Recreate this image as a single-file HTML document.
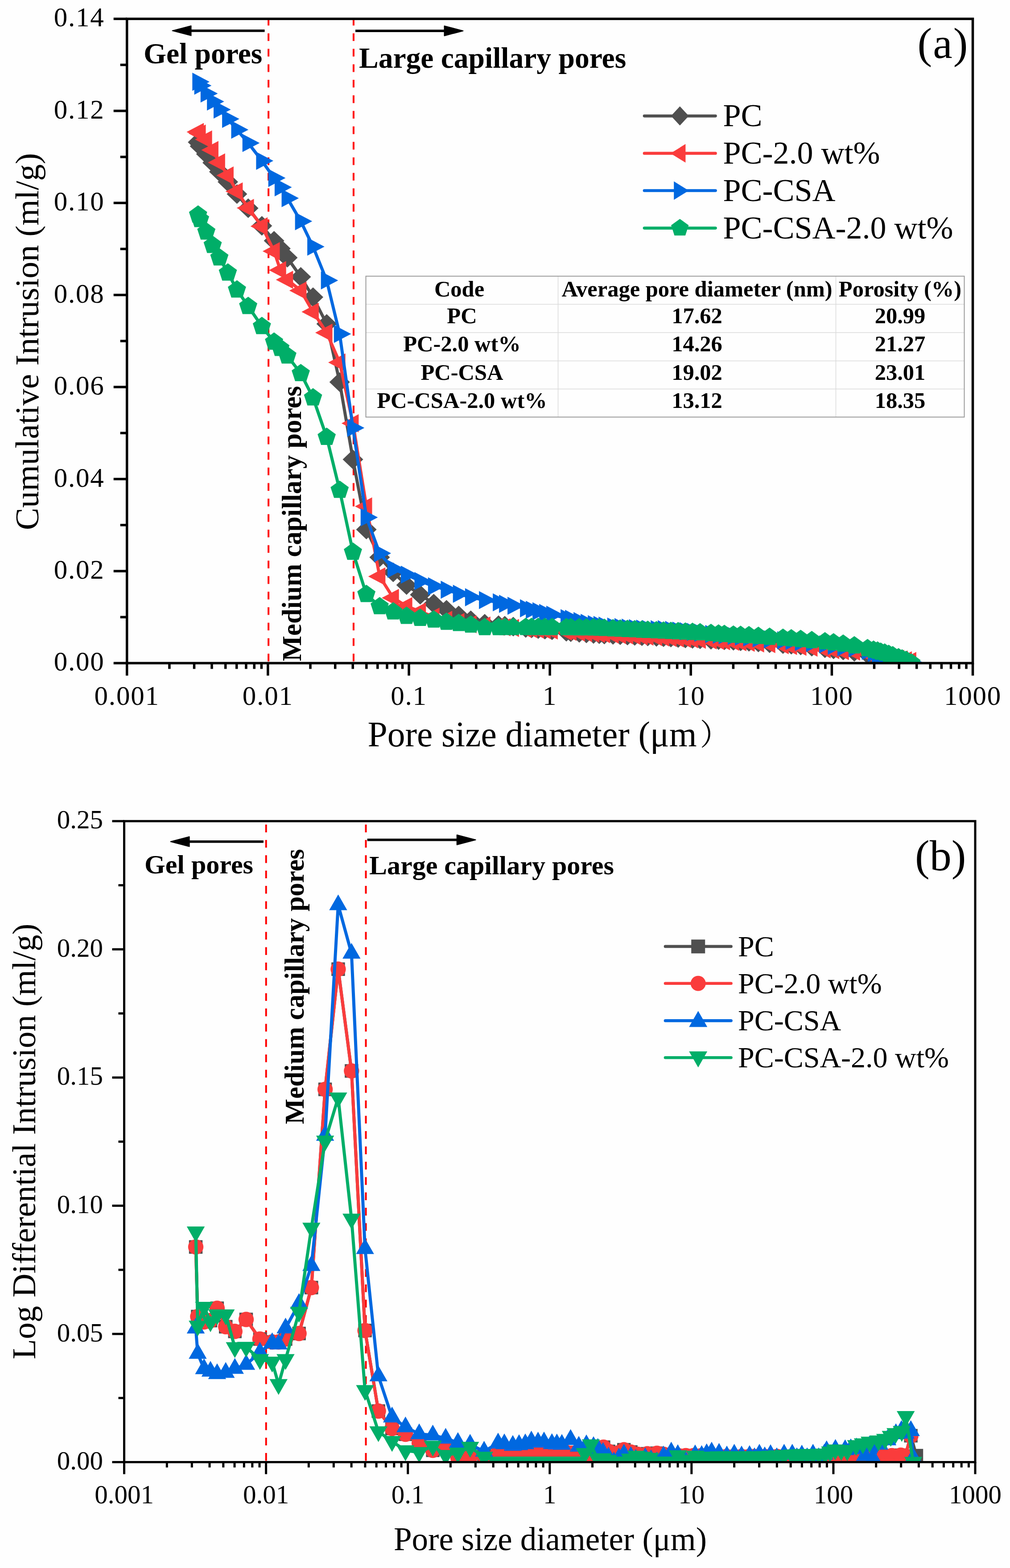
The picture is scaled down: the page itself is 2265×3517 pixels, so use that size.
<!DOCTYPE html>
<html><head><meta charset="utf-8"><title>Pore size distribution</title>
<style>html,body{margin:0;padding:0;background:#fefefe;}svg{display:block;}</style></head>
<body>
<svg width="2265" height="3517" viewBox="0 0 2265 3517" font-family='"Liberation Serif", "Times New Roman", serif'>
<rect width="2265" height="3517" fill="#fefefe"/>
<defs><clipPath id="ca"><rect x="284.7" y="42.3" width="1896.8" height="1445.1000000000001"/></clipPath><clipPath id="cb"><rect x="278.5" y="1841.8" width="1908.5" height="1437.7"/></clipPath></defs>
<g clip-path="url(#ca)">
<line x1="602.1" y1="39.90" x2="602.1" y2="1484.00" stroke="#ff0000" stroke-width="4" stroke-dasharray="17.3 17.49"/>
<line x1="792.9" y1="39.90" x2="792.9" y2="1484.00" stroke="#ff0000" stroke-width="4" stroke-dasharray="17.3 17.49"/>
<path d="M444.2 319.0L448.6 328.0L462.7 345.6L477.0 365.0L491.9 385.2L511.0 407.9L531.4 435.2L556.6 467.0L587.3 506.6L614.6 540.0L628.8 557.5L644.4 578.0L674.5 621.0L702.0 666.5L732.6 726.5L761.7 857.0L791.5 1030.5L821.6 1187.7L851.4 1250.0L881.8 1283.8L911.7 1312.3L942.3 1333.9L972.7 1354.0L1001.3 1367.7L1028.6 1380.6L1055.8 1391.3L1087.0 1399.1L1118.0 1402.2L1132.0 1403.6L1151.0 1405.6L1179.0 1408.4L1192.0 1409.6L1207.0 1410.9L1222.0 1412.3L1238.0 1413.8L1270.0 1417.0L1280.0 1418.0L1299.0 1419.5L1315.0 1420.8L1331.0 1422.0L1343.8 1422.6L1355.2 1423.2L1374.7 1424.0L1390.9 1424.8L1407.1 1425.5L1423.4 1426.3L1439.6 1427.0L1452.6 1427.6L1472.1 1428.5L1488.0 1429.2L1504.5 1430.0L1520.8 1430.9L1537.0 1431.9L1553.0 1432.9L1570.0 1433.9L1594.4 1435.0L1611.4 1435.7L1624.4 1436.3L1644.7 1437.3L1660.9 1438.4L1679.6 1439.6L1700.7 1441.0L1725.8 1442.7L1755.9 1444.7L1774.5 1446.1L1795.6 1447.7L1820.5 1450.5L1850.0 1454.0L1869.3 1456.4L1890.9 1459.0L1915.9 1462.0L1945.5 1467.2L1959.0 1469.8L1968.0 1471.6L1975.0 1473.0L1984.0 1474.8L1993.0 1476.6L2002.0 1478.3L2015.0 1480.0L2023.0 1481.1L2032.0 1482.3" fill="none" stroke="#4f4f4f" stroke-width="7" stroke-linejoin="round" stroke-linecap="round"/>
<path d="M444.2 297.0L467.2 319.0L444.2 341.0L421.2 319.0Z" fill="#4f4f4f"/>
<path d="M448.6 306.0L471.6 328.0L448.6 350.0L425.6 328.0Z" fill="#4f4f4f"/>
<path d="M462.7 323.6L485.7 345.6L462.7 367.6L439.7 345.6Z" fill="#4f4f4f"/>
<path d="M477.0 343.0L500.0 365.0L477.0 387.0L454.0 365.0Z" fill="#4f4f4f"/>
<path d="M491.9 363.2L514.9 385.2L491.9 407.2L468.9 385.2Z" fill="#4f4f4f"/>
<path d="M511.0 385.9L534.0 407.9L511.0 429.9L488.0 407.9Z" fill="#4f4f4f"/>
<path d="M531.4 413.2L554.4 435.2L531.4 457.2L508.4 435.2Z" fill="#4f4f4f"/>
<path d="M556.6 445.0L579.6 467.0L556.6 489.0L533.6 467.0Z" fill="#4f4f4f"/>
<path d="M587.3 484.6L610.3 506.6L587.3 528.6L564.3 506.6Z" fill="#4f4f4f"/>
<path d="M614.6 518.0L637.6 540.0L614.6 562.0L591.6 540.0Z" fill="#4f4f4f"/>
<path d="M628.8 535.5L651.8 557.5L628.8 579.5L605.8 557.5Z" fill="#4f4f4f"/>
<path d="M644.4 556.0L667.4 578.0L644.4 600.0L621.4 578.0Z" fill="#4f4f4f"/>
<path d="M674.5 599.0L697.5 621.0L674.5 643.0L651.5 621.0Z" fill="#4f4f4f"/>
<path d="M702.0 644.5L725.0 666.5L702.0 688.5L679.0 666.5Z" fill="#4f4f4f"/>
<path d="M732.6 704.5L755.6 726.5L732.6 748.5L709.6 726.5Z" fill="#4f4f4f"/>
<path d="M761.7 835.0L784.7 857.0L761.7 879.0L738.7 857.0Z" fill="#4f4f4f"/>
<path d="M791.5 1008.5L814.5 1030.5L791.5 1052.5L768.5 1030.5Z" fill="#4f4f4f"/>
<path d="M821.6 1165.7L844.6 1187.7L821.6 1209.7L798.6 1187.7Z" fill="#4f4f4f"/>
<path d="M851.4 1228.0L874.4 1250.0L851.4 1272.0L828.4 1250.0Z" fill="#4f4f4f"/>
<path d="M881.8 1261.8L904.8 1283.8L881.8 1305.8L858.8 1283.8Z" fill="#4f4f4f"/>
<path d="M911.7 1290.3L934.7 1312.3L911.7 1334.3L888.7 1312.3Z" fill="#4f4f4f"/>
<path d="M942.3 1311.9L965.3 1333.9L942.3 1355.9L919.3 1333.9Z" fill="#4f4f4f"/>
<path d="M972.7 1332.0L995.7 1354.0L972.7 1376.0L949.7 1354.0Z" fill="#4f4f4f"/>
<path d="M1001.3 1345.7L1024.3 1367.7L1001.3 1389.7L978.3 1367.7Z" fill="#4f4f4f"/>
<path d="M1028.6 1358.6L1051.6 1380.6L1028.6 1402.6L1005.6 1380.6Z" fill="#4f4f4f"/>
<path d="M1055.8 1369.3L1078.8 1391.3L1055.8 1413.3L1032.8 1391.3Z" fill="#4f4f4f"/>
<path d="M1087.0 1377.1L1110.0 1399.1L1087.0 1421.1L1064.0 1399.1Z" fill="#4f4f4f"/>
<path d="M1118.0 1380.2L1141.0 1402.2L1118.0 1424.2L1095.0 1402.2Z" fill="#4f4f4f"/>
<path d="M1132.0 1381.6L1155.0 1403.6L1132.0 1425.6L1109.0 1403.6Z" fill="#4f4f4f"/>
<path d="M1151.0 1383.6L1174.0 1405.6L1151.0 1427.6L1128.0 1405.6Z" fill="#4f4f4f"/>
<path d="M1179.0 1386.4L1202.0 1408.4L1179.0 1430.4L1156.0 1408.4Z" fill="#4f4f4f"/>
<path d="M1192.0 1387.6L1215.0 1409.6L1192.0 1431.6L1169.0 1409.6Z" fill="#4f4f4f"/>
<path d="M1207.0 1388.9L1230.0 1410.9L1207.0 1432.9L1184.0 1410.9Z" fill="#4f4f4f"/>
<path d="M1222.0 1390.3L1245.0 1412.3L1222.0 1434.3L1199.0 1412.3Z" fill="#4f4f4f"/>
<path d="M1238.0 1391.8L1261.0 1413.8L1238.0 1435.8L1215.0 1413.8Z" fill="#4f4f4f"/>
<path d="M1270.0 1395.0L1293.0 1417.0L1270.0 1439.0L1247.0 1417.0Z" fill="#4f4f4f"/>
<path d="M1280.0 1396.0L1303.0 1418.0L1280.0 1440.0L1257.0 1418.0Z" fill="#4f4f4f"/>
<path d="M1299.0 1397.5L1322.0 1419.5L1299.0 1441.5L1276.0 1419.5Z" fill="#4f4f4f"/>
<path d="M1315.0 1398.8L1338.0 1420.8L1315.0 1442.8L1292.0 1420.8Z" fill="#4f4f4f"/>
<path d="M1331.0 1400.0L1354.0 1422.0L1331.0 1444.0L1308.0 1422.0Z" fill="#4f4f4f"/>
<path d="M1343.8 1400.6L1366.8 1422.6L1343.8 1444.6L1320.8 1422.6Z" fill="#4f4f4f"/>
<path d="M1355.2 1401.2L1378.2 1423.2L1355.2 1445.2L1332.2 1423.2Z" fill="#4f4f4f"/>
<path d="M1374.7 1402.0L1397.7 1424.0L1374.7 1446.0L1351.7 1424.0Z" fill="#4f4f4f"/>
<path d="M1390.9 1402.8L1413.9 1424.8L1390.9 1446.8L1367.9 1424.8Z" fill="#4f4f4f"/>
<path d="M1407.1 1403.5L1430.1 1425.5L1407.1 1447.5L1384.1 1425.5Z" fill="#4f4f4f"/>
<path d="M1423.4 1404.3L1446.4 1426.3L1423.4 1448.3L1400.4 1426.3Z" fill="#4f4f4f"/>
<path d="M1439.6 1405.0L1462.6 1427.0L1439.6 1449.0L1416.6 1427.0Z" fill="#4f4f4f"/>
<path d="M1452.6 1405.6L1475.6 1427.6L1452.6 1449.6L1429.6 1427.6Z" fill="#4f4f4f"/>
<path d="M1472.1 1406.5L1495.1 1428.5L1472.1 1450.5L1449.1 1428.5Z" fill="#4f4f4f"/>
<path d="M1488.0 1407.2L1511.0 1429.2L1488.0 1451.2L1465.0 1429.2Z" fill="#4f4f4f"/>
<path d="M1504.5 1408.0L1527.5 1430.0L1504.5 1452.0L1481.5 1430.0Z" fill="#4f4f4f"/>
<path d="M1520.8 1408.9L1543.8 1430.9L1520.8 1452.9L1497.8 1430.9Z" fill="#4f4f4f"/>
<path d="M1537.0 1409.9L1560.0 1431.9L1537.0 1453.9L1514.0 1431.9Z" fill="#4f4f4f"/>
<path d="M1553.0 1410.9L1576.0 1432.9L1553.0 1454.9L1530.0 1432.9Z" fill="#4f4f4f"/>
<path d="M1570.0 1411.9L1593.0 1433.9L1570.0 1455.9L1547.0 1433.9Z" fill="#4f4f4f"/>
<path d="M1594.4 1413.0L1617.4 1435.0L1594.4 1457.0L1571.4 1435.0Z" fill="#4f4f4f"/>
<path d="M1611.4 1413.7L1634.4 1435.7L1611.4 1457.7L1588.4 1435.7Z" fill="#4f4f4f"/>
<path d="M1624.4 1414.3L1647.4 1436.3L1624.4 1458.3L1601.4 1436.3Z" fill="#4f4f4f"/>
<path d="M1644.7 1415.3L1667.7 1437.3L1644.7 1459.3L1621.7 1437.3Z" fill="#4f4f4f"/>
<path d="M1660.9 1416.4L1683.9 1438.4L1660.9 1460.4L1637.9 1438.4Z" fill="#4f4f4f"/>
<path d="M1679.6 1417.6L1702.6 1439.6L1679.6 1461.6L1656.6 1439.6Z" fill="#4f4f4f"/>
<path d="M1700.7 1419.0L1723.7 1441.0L1700.7 1463.0L1677.7 1441.0Z" fill="#4f4f4f"/>
<path d="M1725.8 1420.7L1748.8 1442.7L1725.8 1464.7L1702.8 1442.7Z" fill="#4f4f4f"/>
<path d="M1755.9 1422.7L1778.9 1444.7L1755.9 1466.7L1732.9 1444.7Z" fill="#4f4f4f"/>
<path d="M1774.5 1424.1L1797.5 1446.1L1774.5 1468.1L1751.5 1446.1Z" fill="#4f4f4f"/>
<path d="M1795.6 1425.7L1818.6 1447.7L1795.6 1469.7L1772.6 1447.7Z" fill="#4f4f4f"/>
<path d="M1820.5 1428.5L1843.5 1450.5L1820.5 1472.5L1797.5 1450.5Z" fill="#4f4f4f"/>
<path d="M1850.0 1432.0L1873.0 1454.0L1850.0 1476.0L1827.0 1454.0Z" fill="#4f4f4f"/>
<path d="M1869.3 1434.4L1892.3 1456.4L1869.3 1478.4L1846.3 1456.4Z" fill="#4f4f4f"/>
<path d="M1890.9 1437.0L1913.9 1459.0L1890.9 1481.0L1867.9 1459.0Z" fill="#4f4f4f"/>
<path d="M1915.9 1440.0L1938.9 1462.0L1915.9 1484.0L1892.9 1462.0Z" fill="#4f4f4f"/>
<path d="M1945.5 1445.2L1968.5 1467.2L1945.5 1489.2L1922.5 1467.2Z" fill="#4f4f4f"/>
<path d="M1959.0 1447.8L1982.0 1469.8L1959.0 1491.8L1936.0 1469.8Z" fill="#4f4f4f"/>
<path d="M1968.0 1449.6L1991.0 1471.6L1968.0 1493.6L1945.0 1471.6Z" fill="#4f4f4f"/>
<path d="M1975.0 1451.0L1998.0 1473.0L1975.0 1495.0L1952.0 1473.0Z" fill="#4f4f4f"/>
<path d="M1984.0 1452.8L2007.0 1474.8L1984.0 1496.8L1961.0 1474.8Z" fill="#4f4f4f"/>
<path d="M1993.0 1454.6L2016.0 1476.6L1993.0 1498.6L1970.0 1476.6Z" fill="#4f4f4f"/>
<path d="M2002.0 1456.3L2025.0 1478.3L2002.0 1500.3L1979.0 1478.3Z" fill="#4f4f4f"/>
<path d="M2015.0 1458.0L2038.0 1480.0L2015.0 1502.0L1992.0 1480.0Z" fill="#4f4f4f"/>
<path d="M2023.0 1459.1L2046.0 1481.1L2023.0 1503.1L2000.0 1481.1Z" fill="#4f4f4f"/>
<path d="M2032.0 1460.3L2055.0 1482.3L2032.0 1504.3L2009.0 1482.3Z" fill="#4f4f4f"/>
<path d="M444.2 296.0L448.6 299.5L462.7 312.7L477.0 336.5L491.9 364.4L511.0 393.6L531.4 429.4L556.6 466.4L587.3 507.6L614.6 563.4L628.8 605.9L644.4 627.5L674.5 651.8L702.0 699.4L732.6 746.2L761.7 813.0L791.5 949.4L821.6 1135.7L851.4 1292.9L881.8 1341.0L911.7 1359.6L942.3 1371.7L972.7 1383.2L1001.3 1390.3L1028.6 1395.3L1055.8 1400.3L1087.0 1403.0L1118.0 1405.8L1132.0 1407.0L1151.0 1408.5L1179.0 1410.4L1192.0 1411.2L1207.0 1412.2L1222.0 1413.2L1238.0 1414.2L1270.0 1416.5L1280.0 1417.2L1299.0 1418.7L1315.0 1419.9L1331.0 1421.1L1343.8 1421.8L1355.2 1422.4L1374.7 1423.5L1390.9 1424.4L1407.1 1425.3L1423.4 1426.2L1439.6 1427.1L1452.6 1427.9L1472.1 1428.9L1488.0 1429.9L1504.5 1430.9L1520.8 1431.9L1537.0 1432.9L1553.0 1433.9L1570.0 1434.9L1594.4 1436.4L1611.4 1437.4L1624.4 1438.2L1644.7 1439.5L1660.9 1440.5L1679.6 1441.7L1700.7 1443.1L1725.8 1444.7L1755.9 1447.2L1774.5 1449.0L1795.6 1450.7L1820.5 1452.8L1850.0 1456.5L1869.3 1458.1L1890.9 1460.5L1915.9 1461.4L1945.5 1465.4L1959.0 1467.6L1968.0 1469.2L1975.0 1470.5L1984.0 1472.1L1993.0 1473.7L2002.0 1475.4L2015.0 1477.8L2023.0 1479.4L2032.0 1481.1L2042.0 1482.5" fill="none" stroke="#fa3c3c" stroke-width="7" stroke-linejoin="round" stroke-linecap="round"/>
<path d="M418.5 296.0L457.1 275.7L457.1 316.3Z" fill="#fa3c3c"/>
<path d="M422.9 299.5L461.5 279.2L461.5 319.8Z" fill="#fa3c3c"/>
<path d="M437.0 312.7L475.6 292.4L475.6 333.0Z" fill="#fa3c3c"/>
<path d="M451.3 336.5L489.9 316.2L489.9 356.8Z" fill="#fa3c3c"/>
<path d="M466.2 364.4L504.8 344.1L504.8 384.7Z" fill="#fa3c3c"/>
<path d="M485.3 393.6L523.9 373.3L523.9 413.9Z" fill="#fa3c3c"/>
<path d="M505.7 429.4L544.3 409.1L544.3 449.7Z" fill="#fa3c3c"/>
<path d="M530.9 466.4L569.5 446.1L569.5 486.7Z" fill="#fa3c3c"/>
<path d="M561.6 507.6L600.2 487.3L600.2 527.9Z" fill="#fa3c3c"/>
<path d="M588.9 563.4L627.5 543.1L627.5 583.7Z" fill="#fa3c3c"/>
<path d="M603.1 605.9L641.7 585.6L641.7 626.2Z" fill="#fa3c3c"/>
<path d="M618.7 627.5L657.3 607.2L657.3 647.8Z" fill="#fa3c3c"/>
<path d="M648.8 651.8L687.4 631.5L687.4 672.1Z" fill="#fa3c3c"/>
<path d="M676.3 699.4L714.9 679.1L714.9 719.7Z" fill="#fa3c3c"/>
<path d="M706.9 746.2L745.5 725.9L745.5 766.5Z" fill="#fa3c3c"/>
<path d="M736.0 813.0L774.6 792.7L774.6 833.3Z" fill="#fa3c3c"/>
<path d="M765.8 949.4L804.4 929.1L804.4 969.7Z" fill="#fa3c3c"/>
<path d="M795.9 1135.7L834.5 1115.4L834.5 1156.0Z" fill="#fa3c3c"/>
<path d="M825.7 1292.9L864.3 1272.6L864.3 1313.2Z" fill="#fa3c3c"/>
<path d="M856.1 1341.0L894.7 1320.7L894.7 1361.3Z" fill="#fa3c3c"/>
<path d="M886.0 1359.6L924.6 1339.3L924.6 1379.9Z" fill="#fa3c3c"/>
<path d="M916.6 1371.7L955.2 1351.4L955.2 1392.0Z" fill="#fa3c3c"/>
<path d="M947.0 1383.2L985.6 1362.9L985.6 1403.5Z" fill="#fa3c3c"/>
<path d="M975.6 1390.3L1014.2 1370.0L1014.2 1410.6Z" fill="#fa3c3c"/>
<path d="M1002.9 1395.3L1041.5 1375.0L1041.5 1415.6Z" fill="#fa3c3c"/>
<path d="M1030.1 1400.3L1068.7 1380.0L1068.7 1420.6Z" fill="#fa3c3c"/>
<path d="M1061.3 1403.0L1099.9 1382.7L1099.9 1423.3Z" fill="#fa3c3c"/>
<path d="M1092.3 1405.8L1130.9 1385.5L1130.9 1426.1Z" fill="#fa3c3c"/>
<path d="M1106.3 1407.0L1144.9 1386.7L1144.9 1427.3Z" fill="#fa3c3c"/>
<path d="M1125.3 1408.5L1163.9 1388.2L1163.9 1428.8Z" fill="#fa3c3c"/>
<path d="M1153.3 1410.4L1191.9 1390.1L1191.9 1430.7Z" fill="#fa3c3c"/>
<path d="M1166.3 1411.2L1204.9 1390.9L1204.9 1431.5Z" fill="#fa3c3c"/>
<path d="M1181.3 1412.2L1219.9 1391.9L1219.9 1432.5Z" fill="#fa3c3c"/>
<path d="M1196.3 1413.2L1234.9 1392.9L1234.9 1433.5Z" fill="#fa3c3c"/>
<path d="M1212.3 1414.2L1250.9 1393.9L1250.9 1434.5Z" fill="#fa3c3c"/>
<path d="M1244.3 1416.5L1282.9 1396.2L1282.9 1436.8Z" fill="#fa3c3c"/>
<path d="M1254.3 1417.2L1292.9 1397.0L1292.9 1437.5Z" fill="#fa3c3c"/>
<path d="M1273.3 1418.7L1311.9 1398.4L1311.9 1439.0Z" fill="#fa3c3c"/>
<path d="M1289.3 1419.9L1327.9 1399.6L1327.9 1440.2Z" fill="#fa3c3c"/>
<path d="M1305.3 1421.1L1343.9 1400.8L1343.9 1441.4Z" fill="#fa3c3c"/>
<path d="M1318.1 1421.8L1356.7 1401.5L1356.7 1442.1Z" fill="#fa3c3c"/>
<path d="M1329.5 1422.4L1368.1 1402.1L1368.1 1442.7Z" fill="#fa3c3c"/>
<path d="M1349.0 1423.5L1387.6 1403.2L1387.6 1443.8Z" fill="#fa3c3c"/>
<path d="M1365.2 1424.4L1403.8 1404.1L1403.8 1444.7Z" fill="#fa3c3c"/>
<path d="M1381.4 1425.3L1420.0 1405.0L1420.0 1445.6Z" fill="#fa3c3c"/>
<path d="M1397.7 1426.2L1436.3 1405.9L1436.3 1446.5Z" fill="#fa3c3c"/>
<path d="M1413.9 1427.1L1452.5 1406.8L1452.5 1447.4Z" fill="#fa3c3c"/>
<path d="M1426.9 1427.9L1465.5 1407.6L1465.5 1448.2Z" fill="#fa3c3c"/>
<path d="M1446.4 1428.9L1485.0 1408.6L1485.0 1449.2Z" fill="#fa3c3c"/>
<path d="M1462.3 1429.9L1500.9 1409.6L1500.9 1450.2Z" fill="#fa3c3c"/>
<path d="M1478.8 1430.9L1517.4 1410.6L1517.4 1451.2Z" fill="#fa3c3c"/>
<path d="M1495.1 1431.9L1533.7 1411.6L1533.7 1452.2Z" fill="#fa3c3c"/>
<path d="M1511.3 1432.9L1549.9 1412.6L1549.9 1453.2Z" fill="#fa3c3c"/>
<path d="M1527.3 1433.9L1565.9 1413.6L1565.9 1454.2Z" fill="#fa3c3c"/>
<path d="M1544.3 1434.9L1582.9 1414.6L1582.9 1455.2Z" fill="#fa3c3c"/>
<path d="M1568.7 1436.4L1607.3 1416.1L1607.3 1456.7Z" fill="#fa3c3c"/>
<path d="M1585.7 1437.4L1624.3 1417.1L1624.3 1457.7Z" fill="#fa3c3c"/>
<path d="M1598.7 1438.2L1637.3 1417.9L1637.3 1458.5Z" fill="#fa3c3c"/>
<path d="M1619.0 1439.5L1657.6 1419.2L1657.6 1459.8Z" fill="#fa3c3c"/>
<path d="M1635.2 1440.5L1673.8 1420.2L1673.8 1460.8Z" fill="#fa3c3c"/>
<path d="M1653.9 1441.7L1692.5 1421.4L1692.5 1462.0Z" fill="#fa3c3c"/>
<path d="M1675.0 1443.1L1713.6 1422.8L1713.6 1463.4Z" fill="#fa3c3c"/>
<path d="M1700.1 1444.7L1738.7 1424.4L1738.7 1465.0Z" fill="#fa3c3c"/>
<path d="M1730.2 1447.2L1768.8 1426.9L1768.8 1467.5Z" fill="#fa3c3c"/>
<path d="M1748.8 1449.0L1787.4 1428.8L1787.4 1469.3Z" fill="#fa3c3c"/>
<path d="M1769.9 1450.7L1808.5 1430.4L1808.5 1471.0Z" fill="#fa3c3c"/>
<path d="M1794.8 1452.8L1833.4 1432.5L1833.4 1473.1Z" fill="#fa3c3c"/>
<path d="M1824.3 1456.5L1862.9 1436.2L1862.9 1476.8Z" fill="#fa3c3c"/>
<path d="M1843.6 1458.1L1882.2 1437.8L1882.2 1478.4Z" fill="#fa3c3c"/>
<path d="M1865.2 1460.5L1903.8 1440.2L1903.8 1480.8Z" fill="#fa3c3c"/>
<path d="M1890.2 1461.4L1928.8 1441.1L1928.8 1481.7Z" fill="#fa3c3c"/>
<path d="M1919.8 1465.4L1958.4 1445.1L1958.4 1485.7Z" fill="#fa3c3c"/>
<path d="M1933.3 1467.6L1971.9 1447.3L1971.9 1487.9Z" fill="#fa3c3c"/>
<path d="M1942.3 1469.2L1980.9 1448.9L1980.9 1489.5Z" fill="#fa3c3c"/>
<path d="M1949.3 1470.5L1987.9 1450.2L1987.9 1490.8Z" fill="#fa3c3c"/>
<path d="M1958.3 1472.1L1996.9 1451.8L1996.9 1492.4Z" fill="#fa3c3c"/>
<path d="M1967.3 1473.7L2005.9 1453.4L2005.9 1494.0Z" fill="#fa3c3c"/>
<path d="M1976.3 1475.4L2014.9 1455.1L2014.9 1495.7Z" fill="#fa3c3c"/>
<path d="M1989.3 1477.8L2027.9 1457.5L2027.9 1498.1Z" fill="#fa3c3c"/>
<path d="M1997.3 1479.4L2035.9 1459.1L2035.9 1499.7Z" fill="#fa3c3c"/>
<path d="M2006.3 1481.1L2044.9 1460.8L2044.9 1501.4Z" fill="#fa3c3c"/>
<path d="M2016.3 1482.5L2054.9 1462.2L2054.9 1502.8Z" fill="#fa3c3c"/>
<path d="M444.2 183.4L448.6 192.1L462.7 209.7L477.0 227.8L491.9 245.7L511.0 266.8L531.4 290.9L556.6 320.7L587.3 360.7L614.6 399.2L628.8 420.1L644.4 444.4L674.5 496.2L702.0 553.3L732.6 629.0L761.7 749.0L791.5 959.7L821.6 1160.4L851.4 1240.9L881.8 1276.0L911.7 1289.0L942.3 1303.2L972.7 1315.0L1001.3 1322.7L1028.6 1331.8L1055.8 1339.6L1087.0 1346.0L1118.0 1351.0L1132.0 1354.4L1151.0 1358.8L1179.0 1364.4L1192.0 1367.7L1207.0 1371.0L1222.0 1374.7L1238.0 1378.7L1270.0 1386.5L1280.0 1388.0L1299.0 1393.0L1315.0 1397.0L1331.0 1400.0L1343.8 1401.7L1355.2 1403.3L1374.7 1405.3L1390.9 1406.6L1407.1 1407.9L1423.4 1409.0L1439.6 1410.1L1452.6 1410.9L1472.1 1411.4L1488.0 1411.4L1504.5 1412.7L1520.8 1414.5L1537.0 1415.9L1553.0 1417.4L1570.0 1419.2L1594.4 1422.1L1611.4 1423.7L1624.4 1424.8L1644.7 1426.5L1660.9 1427.9L1679.6 1429.7L1700.7 1431.8L1725.8 1434.0L1755.9 1436.1L1774.5 1437.8L1795.6 1439.9L1820.5 1442.4L1850.0 1445.3L1869.3 1448.5L1890.9 1451.7L1915.9 1453.8L1945.5 1460.0L1959.0 1464.7L1968.0 1466.9L1975.0 1469.9L1984.0 1473.9L1993.0 1478.1L2002.0 1482.5L2015.0 1484.5L2023.0 1484.9L2032.0 1485.4L2044.0 1486.0" fill="none" stroke="#0068e0" stroke-width="7" stroke-linejoin="round" stroke-linecap="round"/>
<path d="M469.9 183.4L431.3 163.1L431.3 203.7Z" fill="#0068e0"/>
<path d="M474.3 192.1L435.7 171.8L435.7 212.4Z" fill="#0068e0"/>
<path d="M488.4 209.7L449.8 189.4L449.8 230.0Z" fill="#0068e0"/>
<path d="M502.7 227.8L464.1 207.5L464.1 248.1Z" fill="#0068e0"/>
<path d="M517.6 245.7L479.0 225.4L479.0 266.0Z" fill="#0068e0"/>
<path d="M536.7 266.8L498.1 246.5L498.1 287.1Z" fill="#0068e0"/>
<path d="M557.1 290.9L518.5 270.6L518.5 311.2Z" fill="#0068e0"/>
<path d="M582.3 320.7L543.7 300.4L543.7 341.0Z" fill="#0068e0"/>
<path d="M613.0 360.7L574.4 340.4L574.4 381.0Z" fill="#0068e0"/>
<path d="M640.3 399.2L601.7 378.9L601.7 419.5Z" fill="#0068e0"/>
<path d="M654.5 420.1L615.9 399.8L615.9 440.4Z" fill="#0068e0"/>
<path d="M670.1 444.4L631.5 424.1L631.5 464.7Z" fill="#0068e0"/>
<path d="M700.2 496.2L661.6 475.9L661.6 516.5Z" fill="#0068e0"/>
<path d="M727.7 553.3L689.1 533.0L689.1 573.6Z" fill="#0068e0"/>
<path d="M758.3 629.0L719.7 608.7L719.7 649.3Z" fill="#0068e0"/>
<path d="M787.4 749.0L748.8 728.7L748.8 769.3Z" fill="#0068e0"/>
<path d="M817.2 959.7L778.6 939.4L778.6 980.0Z" fill="#0068e0"/>
<path d="M847.3 1160.4L808.7 1140.1L808.7 1180.7Z" fill="#0068e0"/>
<path d="M877.1 1240.9L838.5 1220.6L838.5 1261.2Z" fill="#0068e0"/>
<path d="M907.5 1276.0L868.9 1255.7L868.9 1296.3Z" fill="#0068e0"/>
<path d="M937.4 1289.0L898.8 1268.7L898.8 1309.3Z" fill="#0068e0"/>
<path d="M968.0 1303.2L929.4 1282.9L929.4 1323.5Z" fill="#0068e0"/>
<path d="M998.4 1315.0L959.8 1294.7L959.8 1335.3Z" fill="#0068e0"/>
<path d="M1027.0 1322.7L988.4 1302.4L988.4 1343.0Z" fill="#0068e0"/>
<path d="M1054.3 1331.8L1015.7 1311.5L1015.7 1352.1Z" fill="#0068e0"/>
<path d="M1081.5 1339.6L1042.9 1319.3L1042.9 1359.9Z" fill="#0068e0"/>
<path d="M1112.7 1346.0L1074.1 1325.7L1074.1 1366.3Z" fill="#0068e0"/>
<path d="M1143.7 1351.0L1105.1 1330.7L1105.1 1371.3Z" fill="#0068e0"/>
<path d="M1157.7 1354.4L1119.1 1334.1L1119.1 1374.7Z" fill="#0068e0"/>
<path d="M1176.7 1358.8L1138.1 1338.5L1138.1 1379.1Z" fill="#0068e0"/>
<path d="M1204.7 1364.4L1166.1 1344.1L1166.1 1384.7Z" fill="#0068e0"/>
<path d="M1217.7 1367.7L1179.1 1347.4L1179.1 1388.0Z" fill="#0068e0"/>
<path d="M1232.7 1371.0L1194.1 1350.7L1194.1 1391.3Z" fill="#0068e0"/>
<path d="M1247.7 1374.7L1209.1 1354.4L1209.1 1395.0Z" fill="#0068e0"/>
<path d="M1263.7 1378.7L1225.1 1358.4L1225.1 1399.0Z" fill="#0068e0"/>
<path d="M1295.7 1386.5L1257.1 1366.2L1257.1 1406.8Z" fill="#0068e0"/>
<path d="M1305.7 1388.0L1267.1 1367.7L1267.1 1408.3Z" fill="#0068e0"/>
<path d="M1324.7 1393.0L1286.1 1372.7L1286.1 1413.3Z" fill="#0068e0"/>
<path d="M1340.7 1397.0L1302.1 1376.7L1302.1 1417.3Z" fill="#0068e0"/>
<path d="M1356.7 1400.0L1318.1 1379.7L1318.1 1420.3Z" fill="#0068e0"/>
<path d="M1369.5 1401.7L1330.9 1381.4L1330.9 1422.0Z" fill="#0068e0"/>
<path d="M1380.9 1403.3L1342.3 1383.0L1342.3 1423.6Z" fill="#0068e0"/>
<path d="M1400.4 1405.3L1361.8 1385.0L1361.8 1425.6Z" fill="#0068e0"/>
<path d="M1416.6 1406.6L1378.0 1386.3L1378.0 1426.9Z" fill="#0068e0"/>
<path d="M1432.8 1407.9L1394.2 1387.6L1394.2 1428.2Z" fill="#0068e0"/>
<path d="M1449.1 1409.0L1410.5 1388.7L1410.5 1429.3Z" fill="#0068e0"/>
<path d="M1465.3 1410.1L1426.7 1389.8L1426.7 1430.4Z" fill="#0068e0"/>
<path d="M1478.3 1410.9L1439.7 1390.6L1439.7 1431.2Z" fill="#0068e0"/>
<path d="M1497.8 1411.4L1459.2 1391.1L1459.2 1431.7Z" fill="#0068e0"/>
<path d="M1513.7 1411.4L1475.1 1391.1L1475.1 1431.7Z" fill="#0068e0"/>
<path d="M1530.2 1412.7L1491.6 1392.4L1491.6 1433.0Z" fill="#0068e0"/>
<path d="M1546.5 1414.5L1507.9 1394.2L1507.9 1434.8Z" fill="#0068e0"/>
<path d="M1562.7 1415.9L1524.1 1395.6L1524.1 1436.2Z" fill="#0068e0"/>
<path d="M1578.7 1417.4L1540.1 1397.1L1540.1 1437.7Z" fill="#0068e0"/>
<path d="M1595.7 1419.2L1557.1 1398.9L1557.1 1439.5Z" fill="#0068e0"/>
<path d="M1620.1 1422.1L1581.5 1401.8L1581.5 1442.4Z" fill="#0068e0"/>
<path d="M1637.1 1423.7L1598.5 1403.4L1598.5 1444.0Z" fill="#0068e0"/>
<path d="M1650.1 1424.8L1611.5 1404.5L1611.5 1445.1Z" fill="#0068e0"/>
<path d="M1670.4 1426.5L1631.8 1406.2L1631.8 1446.8Z" fill="#0068e0"/>
<path d="M1686.6 1427.9L1648.0 1407.6L1648.0 1448.2Z" fill="#0068e0"/>
<path d="M1705.3 1429.7L1666.7 1409.4L1666.7 1450.0Z" fill="#0068e0"/>
<path d="M1726.4 1431.8L1687.8 1411.5L1687.8 1452.1Z" fill="#0068e0"/>
<path d="M1751.5 1434.0L1712.9 1413.7L1712.9 1454.3Z" fill="#0068e0"/>
<path d="M1781.6 1436.1L1743.0 1415.8L1743.0 1456.4Z" fill="#0068e0"/>
<path d="M1800.2 1437.8L1761.6 1417.5L1761.6 1458.1Z" fill="#0068e0"/>
<path d="M1821.3 1439.9L1782.7 1419.6L1782.7 1460.2Z" fill="#0068e0"/>
<path d="M1846.2 1442.4L1807.6 1422.1L1807.6 1462.7Z" fill="#0068e0"/>
<path d="M1875.7 1445.3L1837.1 1425.0L1837.1 1465.6Z" fill="#0068e0"/>
<path d="M1895.0 1448.5L1856.4 1428.2L1856.4 1468.8Z" fill="#0068e0"/>
<path d="M1916.6 1451.7L1878.0 1431.4L1878.0 1472.0Z" fill="#0068e0"/>
<path d="M1941.6 1453.8L1903.0 1433.5L1903.0 1474.1Z" fill="#0068e0"/>
<path d="M1971.2 1460.0L1932.6 1439.7L1932.6 1480.3Z" fill="#0068e0"/>
<path d="M1984.7 1464.7L1946.1 1444.4L1946.1 1485.0Z" fill="#0068e0"/>
<path d="M1993.7 1466.9L1955.1 1446.6L1955.1 1487.2Z" fill="#0068e0"/>
<path d="M2000.7 1469.9L1962.1 1449.6L1962.1 1490.2Z" fill="#0068e0"/>
<path d="M2009.7 1473.9L1971.1 1453.6L1971.1 1494.2Z" fill="#0068e0"/>
<path d="M2018.7 1478.1L1980.1 1457.8L1980.1 1498.4Z" fill="#0068e0"/>
<path d="M2027.7 1482.5L1989.1 1462.2L1989.1 1502.8Z" fill="#0068e0"/>
<path d="M2040.7 1484.5L2002.1 1464.2L2002.1 1504.8Z" fill="#0068e0"/>
<path d="M2048.7 1484.9L2010.1 1464.6L2010.1 1505.2Z" fill="#0068e0"/>
<path d="M2057.7 1485.4L2019.1 1465.1L2019.1 1505.7Z" fill="#0068e0"/>
<path d="M2069.7 1486.0L2031.1 1465.7L2031.1 1506.3Z" fill="#0068e0"/>
<path d="M444.2 482.0L448.6 492.0L462.7 520.0L477.0 550.0L491.9 578.0L511.0 612.0L531.4 650.0L556.6 687.0L587.3 732.0L614.6 767.0L628.8 781.0L644.4 798.0L674.5 837.7L702.0 892.0L732.6 980.5L761.7 1099.4L791.5 1238.3L821.6 1333.1L851.4 1360.4L881.8 1372.0L911.7 1382.0L942.3 1386.5L972.7 1390.3L1001.3 1395.3L1028.6 1398.0L1055.8 1401.7L1087.0 1407.4L1118.0 1407.3L1132.0 1407.2L1151.0 1407.2L1179.0 1407.1L1192.0 1407.0L1207.0 1407.1L1222.0 1407.2L1238.0 1407.3L1270.0 1407.5L1280.0 1407.6L1299.0 1407.8L1315.0 1407.9L1331.0 1408.0L1343.8 1408.6L1355.2 1409.1L1374.7 1410.0L1390.9 1410.8L1407.1 1411.5L1423.4 1412.2L1439.6 1413.0L1452.6 1413.5L1472.1 1414.4L1488.0 1415.2L1504.5 1415.9L1520.8 1416.6L1537.0 1417.4L1553.0 1418.1L1570.0 1418.9L1594.4 1420.6L1611.4 1421.8L1624.4 1422.8L1644.7 1424.3L1660.9 1424.8L1679.6 1425.5L1700.7 1427.1L1725.8 1429.0L1755.9 1431.2L1774.5 1432.4L1795.6 1434.0L1820.5 1436.5L1850.0 1439.2L1869.3 1441.5L1890.9 1444.4L1915.9 1448.3L1945.5 1454.6L1959.0 1458.0L1968.0 1460.0L1975.0 1462.4L1984.0 1464.6L1993.0 1467.6L2002.0 1470.5L2015.0 1475.0L2023.0 1477.8L2032.0 1481.0L2044.0 1487.0" fill="none" stroke="#00ae68" stroke-width="7" stroke-linejoin="round" stroke-linecap="round"/>
<path d="M444.2 460.5L464.6 475.4L456.8 499.4L431.6 499.4L423.8 475.4Z" fill="#00ae68"/>
<path d="M448.6 470.5L469.0 485.4L461.2 509.4L436.0 509.4L428.2 485.4Z" fill="#00ae68"/>
<path d="M462.7 498.5L483.1 513.4L475.3 537.4L450.1 537.4L442.3 513.4Z" fill="#00ae68"/>
<path d="M477.0 528.5L497.4 543.4L489.6 567.4L464.4 567.4L456.6 543.4Z" fill="#00ae68"/>
<path d="M491.9 556.5L512.3 571.4L504.5 595.4L479.3 595.4L471.5 571.4Z" fill="#00ae68"/>
<path d="M511.0 590.5L531.4 605.4L523.6 629.4L498.4 629.4L490.6 605.4Z" fill="#00ae68"/>
<path d="M531.4 628.5L551.8 643.4L544.0 667.4L518.8 667.4L511.0 643.4Z" fill="#00ae68"/>
<path d="M556.6 665.5L577.0 680.4L569.2 704.4L544.0 704.4L536.2 680.4Z" fill="#00ae68"/>
<path d="M587.3 710.5L607.7 725.4L599.9 749.4L574.7 749.4L566.9 725.4Z" fill="#00ae68"/>
<path d="M614.6 745.5L635.0 760.4L627.2 784.4L602.0 784.4L594.2 760.4Z" fill="#00ae68"/>
<path d="M628.8 759.5L649.2 774.4L641.4 798.4L616.2 798.4L608.4 774.4Z" fill="#00ae68"/>
<path d="M644.4 776.5L664.8 791.4L657.0 815.4L631.8 815.4L624.0 791.4Z" fill="#00ae68"/>
<path d="M674.5 816.2L694.9 831.1L687.1 855.1L661.9 855.1L654.1 831.1Z" fill="#00ae68"/>
<path d="M702.0 870.5L722.4 885.4L714.6 909.4L689.4 909.4L681.6 885.4Z" fill="#00ae68"/>
<path d="M732.6 959.0L753.0 973.9L745.2 997.9L720.0 997.9L712.2 973.9Z" fill="#00ae68"/>
<path d="M761.7 1077.9L782.1 1092.8L774.3 1116.8L749.1 1116.8L741.3 1092.8Z" fill="#00ae68"/>
<path d="M791.5 1216.8L811.9 1231.7L804.1 1255.7L778.9 1255.7L771.1 1231.7Z" fill="#00ae68"/>
<path d="M821.6 1311.6L842.0 1326.5L834.2 1350.5L809.0 1350.5L801.2 1326.5Z" fill="#00ae68"/>
<path d="M851.4 1338.9L871.8 1353.8L864.0 1377.8L838.8 1377.8L831.0 1353.8Z" fill="#00ae68"/>
<path d="M881.8 1350.5L902.2 1365.4L894.4 1389.4L869.2 1389.4L861.4 1365.4Z" fill="#00ae68"/>
<path d="M911.7 1360.5L932.1 1375.4L924.3 1399.4L899.1 1399.4L891.3 1375.4Z" fill="#00ae68"/>
<path d="M942.3 1365.0L962.7 1379.9L954.9 1403.9L929.7 1403.9L921.9 1379.9Z" fill="#00ae68"/>
<path d="M972.7 1368.8L993.1 1383.7L985.3 1407.7L960.1 1407.7L952.3 1383.7Z" fill="#00ae68"/>
<path d="M1001.3 1373.8L1021.7 1388.7L1013.9 1412.7L988.7 1412.7L980.9 1388.7Z" fill="#00ae68"/>
<path d="M1028.6 1376.5L1049.0 1391.4L1041.2 1415.4L1016.0 1415.4L1008.2 1391.4Z" fill="#00ae68"/>
<path d="M1055.8 1380.2L1076.2 1395.1L1068.4 1419.1L1043.2 1419.1L1035.4 1395.1Z" fill="#00ae68"/>
<path d="M1087.0 1385.9L1107.4 1400.8L1099.6 1424.8L1074.4 1424.8L1066.6 1400.8Z" fill="#00ae68"/>
<path d="M1118.0 1385.8L1138.4 1400.6L1130.6 1424.7L1105.4 1424.7L1097.6 1400.6Z" fill="#00ae68"/>
<path d="M1132.0 1385.7L1152.4 1400.6L1144.6 1424.6L1119.4 1424.6L1111.6 1400.6Z" fill="#00ae68"/>
<path d="M1151.0 1385.7L1171.4 1400.5L1163.6 1424.6L1138.4 1424.6L1130.6 1400.5Z" fill="#00ae68"/>
<path d="M1179.0 1385.6L1199.4 1400.4L1191.6 1424.5L1166.4 1424.5L1158.6 1400.4Z" fill="#00ae68"/>
<path d="M1192.0 1385.5L1212.4 1400.4L1204.6 1424.4L1179.4 1424.4L1171.6 1400.4Z" fill="#00ae68"/>
<path d="M1207.0 1385.6L1227.4 1400.4L1219.6 1424.4L1194.4 1424.4L1186.6 1400.4Z" fill="#00ae68"/>
<path d="M1222.0 1385.7L1242.4 1400.5L1234.6 1424.6L1209.4 1424.6L1201.6 1400.5Z" fill="#00ae68"/>
<path d="M1238.0 1385.8L1258.4 1400.6L1250.6 1424.7L1225.4 1424.7L1217.6 1400.6Z" fill="#00ae68"/>
<path d="M1270.0 1386.0L1290.4 1400.9L1282.6 1424.9L1257.4 1424.9L1249.6 1400.9Z" fill="#00ae68"/>
<path d="M1280.0 1386.1L1300.4 1401.0L1292.6 1425.0L1267.4 1425.0L1259.6 1401.0Z" fill="#00ae68"/>
<path d="M1299.0 1386.3L1319.4 1401.1L1311.6 1425.2L1286.4 1425.2L1278.6 1401.1Z" fill="#00ae68"/>
<path d="M1315.0 1386.4L1335.4 1401.2L1327.6 1425.3L1302.4 1425.3L1294.6 1401.2Z" fill="#00ae68"/>
<path d="M1331.0 1386.5L1351.4 1401.4L1343.6 1425.4L1318.4 1425.4L1310.6 1401.4Z" fill="#00ae68"/>
<path d="M1343.8 1387.1L1364.2 1402.0L1356.4 1426.0L1331.2 1426.0L1323.4 1402.0Z" fill="#00ae68"/>
<path d="M1355.2 1387.6L1375.6 1402.5L1367.8 1426.5L1342.6 1426.5L1334.8 1402.5Z" fill="#00ae68"/>
<path d="M1374.7 1388.5L1395.1 1403.4L1387.3 1427.4L1362.1 1427.4L1354.3 1403.4Z" fill="#00ae68"/>
<path d="M1390.9 1389.3L1411.3 1404.1L1403.5 1428.2L1378.3 1428.2L1370.5 1404.1Z" fill="#00ae68"/>
<path d="M1407.1 1390.0L1427.5 1404.8L1419.7 1428.9L1394.5 1428.9L1386.7 1404.8Z" fill="#00ae68"/>
<path d="M1423.4 1390.7L1443.8 1405.6L1436.0 1429.6L1410.8 1429.6L1403.0 1405.6Z" fill="#00ae68"/>
<path d="M1439.6 1391.5L1460.0 1406.3L1452.2 1430.4L1427.0 1430.4L1419.2 1406.3Z" fill="#00ae68"/>
<path d="M1452.6 1392.0L1473.0 1406.9L1465.2 1430.9L1440.0 1430.9L1432.2 1406.9Z" fill="#00ae68"/>
<path d="M1472.1 1392.9L1492.5 1407.8L1484.7 1431.8L1459.5 1431.8L1451.7 1407.8Z" fill="#00ae68"/>
<path d="M1488.0 1393.7L1508.4 1408.5L1500.6 1432.5L1475.4 1432.5L1467.6 1408.5Z" fill="#00ae68"/>
<path d="M1504.5 1394.4L1524.9 1409.3L1517.1 1433.3L1491.9 1433.3L1484.1 1409.3Z" fill="#00ae68"/>
<path d="M1520.8 1395.1L1541.2 1410.0L1533.4 1434.0L1508.2 1434.0L1500.4 1410.0Z" fill="#00ae68"/>
<path d="M1537.0 1395.9L1557.4 1410.7L1549.6 1434.8L1524.4 1434.8L1516.6 1410.7Z" fill="#00ae68"/>
<path d="M1553.0 1396.6L1573.4 1411.5L1565.6 1435.5L1540.4 1435.5L1532.6 1411.5Z" fill="#00ae68"/>
<path d="M1570.0 1397.4L1590.4 1412.2L1582.6 1436.3L1557.4 1436.3L1549.6 1412.2Z" fill="#00ae68"/>
<path d="M1594.4 1399.1L1614.8 1413.9L1607.0 1438.0L1581.8 1438.0L1574.0 1413.9Z" fill="#00ae68"/>
<path d="M1611.4 1400.3L1631.8 1415.2L1624.0 1439.2L1598.8 1439.2L1591.0 1415.2Z" fill="#00ae68"/>
<path d="M1624.4 1401.3L1644.8 1416.1L1637.0 1440.2L1611.8 1440.2L1604.0 1416.1Z" fill="#00ae68"/>
<path d="M1644.7 1402.8L1665.1 1417.6L1657.3 1441.7L1632.1 1441.7L1624.3 1417.6Z" fill="#00ae68"/>
<path d="M1660.9 1403.3L1681.3 1418.2L1673.5 1442.2L1648.3 1442.2L1640.5 1418.2Z" fill="#00ae68"/>
<path d="M1679.6 1404.0L1700.0 1418.8L1692.2 1442.9L1667.0 1442.9L1659.2 1418.8Z" fill="#00ae68"/>
<path d="M1700.7 1405.6L1721.1 1420.4L1713.3 1444.5L1688.1 1444.5L1680.3 1420.4Z" fill="#00ae68"/>
<path d="M1725.8 1407.5L1746.2 1422.3L1738.4 1446.4L1713.2 1446.4L1705.4 1422.3Z" fill="#00ae68"/>
<path d="M1755.9 1409.7L1776.3 1424.5L1768.5 1448.6L1743.3 1448.6L1735.5 1424.5Z" fill="#00ae68"/>
<path d="M1774.5 1410.9L1794.9 1425.8L1787.1 1449.8L1761.9 1449.8L1754.1 1425.8Z" fill="#00ae68"/>
<path d="M1795.6 1412.5L1816.0 1427.4L1808.2 1451.4L1783.0 1451.4L1775.2 1427.4Z" fill="#00ae68"/>
<path d="M1820.5 1415.0L1840.9 1429.9L1833.1 1453.9L1807.9 1453.9L1800.1 1429.9Z" fill="#00ae68"/>
<path d="M1850.0 1417.7L1870.4 1432.6L1862.6 1456.6L1837.4 1456.6L1829.6 1432.6Z" fill="#00ae68"/>
<path d="M1869.3 1420.0L1889.7 1434.9L1881.9 1458.9L1856.7 1458.9L1848.9 1434.9Z" fill="#00ae68"/>
<path d="M1890.9 1422.9L1911.3 1437.7L1903.5 1461.8L1878.3 1461.8L1870.5 1437.7Z" fill="#00ae68"/>
<path d="M1915.9 1426.8L1936.3 1441.6L1928.5 1465.7L1903.3 1465.7L1895.5 1441.6Z" fill="#00ae68"/>
<path d="M1945.5 1433.1L1965.9 1448.0L1958.1 1472.0L1932.9 1472.0L1925.1 1448.0Z" fill="#00ae68"/>
<path d="M1959.0 1436.5L1979.4 1451.4L1971.6 1475.4L1946.4 1475.4L1938.6 1451.4Z" fill="#00ae68"/>
<path d="M1968.0 1438.5L1988.4 1453.4L1980.6 1477.4L1955.4 1477.4L1947.6 1453.4Z" fill="#00ae68"/>
<path d="M1975.0 1440.9L1995.4 1455.8L1987.6 1479.8L1962.4 1479.8L1954.6 1455.8Z" fill="#00ae68"/>
<path d="M1984.0 1443.1L2004.4 1458.0L1996.6 1482.0L1971.4 1482.0L1963.6 1458.0Z" fill="#00ae68"/>
<path d="M1993.0 1446.1L2013.4 1461.0L2005.6 1485.0L1980.4 1485.0L1972.6 1461.0Z" fill="#00ae68"/>
<path d="M2002.0 1449.0L2022.4 1463.9L2014.6 1487.9L1989.4 1487.9L1981.6 1463.9Z" fill="#00ae68"/>
<path d="M2015.0 1453.5L2035.4 1468.4L2027.6 1492.4L2002.4 1492.4L1994.6 1468.4Z" fill="#00ae68"/>
<path d="M2023.0 1456.3L2043.4 1471.2L2035.6 1495.2L2010.4 1495.2L2002.6 1471.2Z" fill="#00ae68"/>
<path d="M2032.0 1459.5L2052.4 1474.4L2044.6 1498.4L2019.4 1498.4L2011.6 1474.4Z" fill="#00ae68"/>
<path d="M2044.0 1465.5L2064.4 1480.4L2056.6 1504.4L2031.4 1504.4L2023.6 1480.4Z" fill="#00ae68"/>
</g>
<rect x="284.7" y="42.3" width="1896.8" height="1445.1" fill="none" stroke="#000" stroke-width="5.5"/>
<line x1="254.7" y1="1487.4" x2="284.7" y2="1487.4" stroke="#000" stroke-width="5.5"/>
<line x1="269.7" y1="1384.2" x2="284.7" y2="1384.2" stroke="#000" stroke-width="5.5"/>
<line x1="254.7" y1="1281.0" x2="284.7" y2="1281.0" stroke="#000" stroke-width="5.5"/>
<line x1="269.7" y1="1177.7" x2="284.7" y2="1177.7" stroke="#000" stroke-width="5.5"/>
<line x1="254.7" y1="1074.5" x2="284.7" y2="1074.5" stroke="#000" stroke-width="5.5"/>
<line x1="269.7" y1="971.3" x2="284.7" y2="971.3" stroke="#000" stroke-width="5.5"/>
<line x1="254.7" y1="868.1" x2="284.7" y2="868.1" stroke="#000" stroke-width="5.5"/>
<line x1="269.7" y1="764.9" x2="284.7" y2="764.9" stroke="#000" stroke-width="5.5"/>
<line x1="254.7" y1="661.6" x2="284.7" y2="661.6" stroke="#000" stroke-width="5.5"/>
<line x1="269.7" y1="558.4" x2="284.7" y2="558.4" stroke="#000" stroke-width="5.5"/>
<line x1="254.7" y1="455.2" x2="284.7" y2="455.2" stroke="#000" stroke-width="5.5"/>
<line x1="269.7" y1="352.0" x2="284.7" y2="352.0" stroke="#000" stroke-width="5.5"/>
<line x1="254.7" y1="248.7" x2="284.7" y2="248.7" stroke="#000" stroke-width="5.5"/>
<line x1="269.7" y1="145.5" x2="284.7" y2="145.5" stroke="#000" stroke-width="5.5"/>
<line x1="254.7" y1="42.3" x2="284.7" y2="42.3" stroke="#000" stroke-width="5.5"/>
<text x="234.6" y="1504.4" text-anchor="end" font-size="61" letter-spacing="1.8">0.00</text>
<text x="234.6" y="1298.0" text-anchor="end" font-size="61" letter-spacing="1.8">0.02</text>
<text x="234.6" y="1091.5" text-anchor="end" font-size="61" letter-spacing="1.8">0.04</text>
<text x="234.6" y="885.1" text-anchor="end" font-size="61" letter-spacing="1.8">0.06</text>
<text x="234.6" y="678.6" text-anchor="end" font-size="61" letter-spacing="1.8">0.08</text>
<text x="234.6" y="472.2" text-anchor="end" font-size="61" letter-spacing="1.8">0.10</text>
<text x="234.6" y="265.7" text-anchor="end" font-size="61" letter-spacing="1.8">0.12</text>
<text x="234.6" y="59.3" text-anchor="end" font-size="61" letter-spacing="1.8">0.14</text>
<line x1="284.7" y1="1487.4" x2="284.7" y2="1515.4" stroke="#000" stroke-width="5.5"/>
<line x1="379.9" y1="1487.4" x2="379.9" y2="1500.4" stroke="#000" stroke-width="5.5"/>
<line x1="435.5" y1="1487.4" x2="435.5" y2="1500.4" stroke="#000" stroke-width="5.5"/>
<line x1="475.0" y1="1487.4" x2="475.0" y2="1500.4" stroke="#000" stroke-width="5.5"/>
<line x1="505.7" y1="1487.4" x2="505.7" y2="1500.4" stroke="#000" stroke-width="5.5"/>
<line x1="530.7" y1="1487.4" x2="530.7" y2="1500.4" stroke="#000" stroke-width="5.5"/>
<line x1="551.9" y1="1487.4" x2="551.9" y2="1500.4" stroke="#000" stroke-width="5.5"/>
<line x1="570.2" y1="1487.4" x2="570.2" y2="1500.4" stroke="#000" stroke-width="5.5"/>
<line x1="586.4" y1="1487.4" x2="586.4" y2="1500.4" stroke="#000" stroke-width="5.5"/>
<line x1="600.8" y1="1487.4" x2="600.8" y2="1515.4" stroke="#000" stroke-width="5.5"/>
<line x1="696.0" y1="1487.4" x2="696.0" y2="1500.4" stroke="#000" stroke-width="5.5"/>
<line x1="751.7" y1="1487.4" x2="751.7" y2="1500.4" stroke="#000" stroke-width="5.5"/>
<line x1="791.2" y1="1487.4" x2="791.2" y2="1500.4" stroke="#000" stroke-width="5.5"/>
<line x1="821.8" y1="1487.4" x2="821.8" y2="1500.4" stroke="#000" stroke-width="5.5"/>
<line x1="846.8" y1="1487.4" x2="846.8" y2="1500.4" stroke="#000" stroke-width="5.5"/>
<line x1="868.0" y1="1487.4" x2="868.0" y2="1500.4" stroke="#000" stroke-width="5.5"/>
<line x1="886.3" y1="1487.4" x2="886.3" y2="1500.4" stroke="#000" stroke-width="5.5"/>
<line x1="902.5" y1="1487.4" x2="902.5" y2="1500.4" stroke="#000" stroke-width="5.5"/>
<line x1="917.0" y1="1487.4" x2="917.0" y2="1515.4" stroke="#000" stroke-width="5.5"/>
<line x1="1012.1" y1="1487.4" x2="1012.1" y2="1500.4" stroke="#000" stroke-width="5.5"/>
<line x1="1067.8" y1="1487.4" x2="1067.8" y2="1500.4" stroke="#000" stroke-width="5.5"/>
<line x1="1107.3" y1="1487.4" x2="1107.3" y2="1500.4" stroke="#000" stroke-width="5.5"/>
<line x1="1137.9" y1="1487.4" x2="1137.9" y2="1500.4" stroke="#000" stroke-width="5.5"/>
<line x1="1163.0" y1="1487.4" x2="1163.0" y2="1500.4" stroke="#000" stroke-width="5.5"/>
<line x1="1184.1" y1="1487.4" x2="1184.1" y2="1500.4" stroke="#000" stroke-width="5.5"/>
<line x1="1202.5" y1="1487.4" x2="1202.5" y2="1500.4" stroke="#000" stroke-width="5.5"/>
<line x1="1218.6" y1="1487.4" x2="1218.6" y2="1500.4" stroke="#000" stroke-width="5.5"/>
<line x1="1233.1" y1="1487.4" x2="1233.1" y2="1515.4" stroke="#000" stroke-width="5.5"/>
<line x1="1328.3" y1="1487.4" x2="1328.3" y2="1500.4" stroke="#000" stroke-width="5.5"/>
<line x1="1383.9" y1="1487.4" x2="1383.9" y2="1500.4" stroke="#000" stroke-width="5.5"/>
<line x1="1423.4" y1="1487.4" x2="1423.4" y2="1500.4" stroke="#000" stroke-width="5.5"/>
<line x1="1454.1" y1="1487.4" x2="1454.1" y2="1500.4" stroke="#000" stroke-width="5.5"/>
<line x1="1479.1" y1="1487.4" x2="1479.1" y2="1500.4" stroke="#000" stroke-width="5.5"/>
<line x1="1500.3" y1="1487.4" x2="1500.3" y2="1500.4" stroke="#000" stroke-width="5.5"/>
<line x1="1518.6" y1="1487.4" x2="1518.6" y2="1500.4" stroke="#000" stroke-width="5.5"/>
<line x1="1534.8" y1="1487.4" x2="1534.8" y2="1500.4" stroke="#000" stroke-width="5.5"/>
<line x1="1549.2" y1="1487.4" x2="1549.2" y2="1515.4" stroke="#000" stroke-width="5.5"/>
<line x1="1644.4" y1="1487.4" x2="1644.4" y2="1500.4" stroke="#000" stroke-width="5.5"/>
<line x1="1700.1" y1="1487.4" x2="1700.1" y2="1500.4" stroke="#000" stroke-width="5.5"/>
<line x1="1739.6" y1="1487.4" x2="1739.6" y2="1500.4" stroke="#000" stroke-width="5.5"/>
<line x1="1770.2" y1="1487.4" x2="1770.2" y2="1500.4" stroke="#000" stroke-width="5.5"/>
<line x1="1795.2" y1="1487.4" x2="1795.2" y2="1500.4" stroke="#000" stroke-width="5.5"/>
<line x1="1816.4" y1="1487.4" x2="1816.4" y2="1500.4" stroke="#000" stroke-width="5.5"/>
<line x1="1834.7" y1="1487.4" x2="1834.7" y2="1500.4" stroke="#000" stroke-width="5.5"/>
<line x1="1850.9" y1="1487.4" x2="1850.9" y2="1500.4" stroke="#000" stroke-width="5.5"/>
<line x1="1865.4" y1="1487.4" x2="1865.4" y2="1515.4" stroke="#000" stroke-width="5.5"/>
<line x1="1960.5" y1="1487.4" x2="1960.5" y2="1500.4" stroke="#000" stroke-width="5.5"/>
<line x1="2016.2" y1="1487.4" x2="2016.2" y2="1500.4" stroke="#000" stroke-width="5.5"/>
<line x1="2055.7" y1="1487.4" x2="2055.7" y2="1500.4" stroke="#000" stroke-width="5.5"/>
<line x1="2086.3" y1="1487.4" x2="2086.3" y2="1500.4" stroke="#000" stroke-width="5.5"/>
<line x1="2111.4" y1="1487.4" x2="2111.4" y2="1500.4" stroke="#000" stroke-width="5.5"/>
<line x1="2132.5" y1="1487.4" x2="2132.5" y2="1500.4" stroke="#000" stroke-width="5.5"/>
<line x1="2150.9" y1="1487.4" x2="2150.9" y2="1500.4" stroke="#000" stroke-width="5.5"/>
<line x1="2167.0" y1="1487.4" x2="2167.0" y2="1500.4" stroke="#000" stroke-width="5.5"/>
<line x1="2181.5" y1="1487.4" x2="2181.5" y2="1515.4" stroke="#000" stroke-width="5.5"/>
<text x="284.7" y="1581" text-anchor="middle" font-size="61" letter-spacing="1.8">0.001</text>
<text x="600.8" y="1581" text-anchor="middle" font-size="61" letter-spacing="1.8">0.01</text>
<text x="917.0" y="1581" text-anchor="middle" font-size="61" letter-spacing="1.8">0.1</text>
<text x="1233.1" y="1581" text-anchor="middle" font-size="61" letter-spacing="1.8">1</text>
<text x="1549.2" y="1581" text-anchor="middle" font-size="61" letter-spacing="1.8">10</text>
<text x="1865.4" y="1581" text-anchor="middle" font-size="61" letter-spacing="1.8">100</text>
<text x="2181.5" y="1581" text-anchor="middle" font-size="61" letter-spacing="1.8">1000</text>
<line x1="593.5" y1="68.9" x2="428.5" y2="68.9" stroke="#000" stroke-width="5.5"/><path d="M386.5 68.9L428.5 57.9L428.5 79.9Z" fill="#000" stroke="#000" stroke-width="2" stroke-linejoin="round"/>
<line x1="797.0" y1="69.2" x2="996.5" y2="69.2" stroke="#000" stroke-width="5.5"/><path d="M1038.5 69.2L996.5 58.2L996.5 80.2Z" fill="#000" stroke="#000" stroke-width="2" stroke-linejoin="round"/>
<text x="322" y="141.5" font-size="65.5" font-weight="bold">Gel pores</text>
<text x="805" y="151.5" font-size="65.5" font-weight="bold">Large capillary pores</text>
<text transform="translate(675 1483) rotate(-90)" font-size="60.5" font-weight="bold">Medium capillary pores</text>
<text x="2057.5" y="129.5" font-size="98" letter-spacing="2">(a)</text>
<text transform="translate(85.5 1189) rotate(-90)" font-size="75">Cumulative Intrusion (ml/g)</text>
<text x="824.5" y="1673.5" font-size="79.5">Pore size diameter (μm<tspan dx="7" dy="-3" font-size="67" font-family='"Liberation Serif", "Noto Serif CJK SC", serif'>）</tspan></text>
<line x1="1445" y1="260.1" x2="1604.5" y2="260.1" stroke="#4f4f4f" stroke-width="6.6" stroke-linecap="round"/>
<path d="M1524.7 238.6L1544.7 260.1L1524.7 281.6L1504.7 260.1Z" fill="#4f4f4f"/>
<text x="1621.5" y="283.1" font-size="72">PC</text>
<line x1="1445" y1="343.9" x2="1604.5" y2="343.9" stroke="#fa3c3c" stroke-width="6.6" stroke-linecap="round"/>
<path d="M1503.7 343.9L1537.4 323.1L1537.4 364.7Z" fill="#fa3c3c"/>
<text x="1621.5" y="366.9" font-size="72">PC-2.0 wt%</text>
<line x1="1445" y1="427.5" x2="1604.5" y2="427.5" stroke="#0068e0" stroke-width="6.6" stroke-linecap="round"/>
<path d="M1544.7 427.5L1511.2 406.7L1511.2 448.3Z" fill="#0068e0"/>
<text x="1621.5" y="450.5" font-size="72">PC-CSA</text>
<line x1="1445" y1="511.6" x2="1604.5" y2="511.6" stroke="#00ae68" stroke-width="6.6" stroke-linecap="round"/>
<path d="M1524.7 490.9L1544.4 505.2L1536.9 528.3L1512.5 528.3L1505.0 505.2Z" fill="#00ae68"/>
<text x="1621.5" y="534.6" font-size="72">PC-CSA-2.0 wt%</text>
<rect x="820.5" y="619.5" width="1342.0" height="316.0" fill="#fefefe" stroke="none"/>
<line x1="820.5" y1="682.5" x2="2162.5" y2="682.5" stroke="#dadada" stroke-width="1.5"/>
<line x1="820.5" y1="746" x2="2162.5" y2="746" stroke="#dadada" stroke-width="1.5"/>
<line x1="820.5" y1="809.5" x2="2162.5" y2="809.5" stroke="#dadada" stroke-width="1.5"/>
<line x1="820.5" y1="872.5" x2="2162.5" y2="872.5" stroke="#dadada" stroke-width="1.5"/>
<line x1="1251.5" y1="619.5" x2="1251.5" y2="935.5" stroke="#dadada" stroke-width="1.5"/>
<line x1="1874.5" y1="619.5" x2="1874.5" y2="935.5" stroke="#dadada" stroke-width="1.5"/>
<rect x="820.5" y="619.5" width="1342.0" height="316.0" fill="none" stroke="#9a9a9a" stroke-width="2"/>
<text x="1030.0" y="665.0" text-anchor="middle" font-size="50.5" font-weight="bold">Code</text>
<text x="1563.0" y="665.0" text-anchor="middle" font-size="50.5" font-weight="bold">Average pore diameter (nm)</text>
<text x="2018.5" y="665.0" text-anchor="middle" font-size="50.5" font-weight="bold">Porosity (%)</text>
<text x="1036.0" y="724.8" text-anchor="middle" font-size="50.5" font-weight="bold">PC</text>
<text x="1563.0" y="724.8" text-anchor="middle" font-size="50.5" font-weight="bold">17.62</text>
<text x="2018.5" y="724.8" text-anchor="middle" font-size="50.5" font-weight="bold">20.99</text>
<text x="1036.0" y="788.3" text-anchor="middle" font-size="50.5" font-weight="bold">PC-2.0 wt%</text>
<text x="1563.0" y="788.3" text-anchor="middle" font-size="50.5" font-weight="bold">14.26</text>
<text x="2018.5" y="788.3" text-anchor="middle" font-size="50.5" font-weight="bold">21.27</text>
<text x="1036.0" y="851.8" text-anchor="middle" font-size="50.5" font-weight="bold">PC-CSA</text>
<text x="1563.0" y="851.8" text-anchor="middle" font-size="50.5" font-weight="bold">19.02</text>
<text x="2018.5" y="851.8" text-anchor="middle" font-size="50.5" font-weight="bold">23.01</text>
<text x="1036.0" y="914.8" text-anchor="middle" font-size="50.5" font-weight="bold">PC-CSA-2.0 wt%</text>
<text x="1563.0" y="914.8" text-anchor="middle" font-size="50.5" font-weight="bold">13.12</text>
<text x="2018.5" y="914.8" text-anchor="middle" font-size="50.5" font-weight="bold">18.35</text>
<g clip-path="url(#cb)">
<line x1="596.7" y1="1815.12" x2="596.7" y2="3277.00" stroke="#ff0000" stroke-width="4" stroke-dasharray="17.4 16.98"/>
<line x1="820.5" y1="1815.12" x2="820.5" y2="3277.00" stroke="#ff0000" stroke-width="4" stroke-dasharray="17.4 16.98"/>
<path d="M439.0 2796.9L443.4 2953.0L457.6 2965.0L472.0 2962.0L486.9 2934.4L506.2 2975.8L526.7 2986.3L552.0 2959.5L582.9 3003.4L610.4 3010.0L624.7 3010.0L640.4 3003.4L670.6 2991.0L698.3 2888.0L729.1 2443.4L758.4 2173.8L788.3 2402.1L818.6 2984.3L848.6 3165.0L879.2 3204.0L909.3 3217.0L940.1 3236.5L970.6 3253.0L999.4 3247.0L1026.9 3270.0L1054.2 3267.7L1085.6 3265.0L1117.0 3258.0L1131.0 3260.0L1150.0 3258.0L1165.0 3260.8L1180.0 3263.5L1197.5 3260.8L1215.0 3258.0L1236.8 3265.5L1253.4 3261.6L1270.0 3257.7L1284.0 3259.8L1298.0 3262.0L1314.5 3262.0L1331.0 3262.0L1342.2 3254.0L1353.4 3246.0L1364.7 3255.5L1376.0 3265.0L1387.6 3258.4L1399.2 3251.8L1414.6 3256.9L1430.0 3262.0L1451.6 3260.8L1473.2 3259.6L1489.1 3262.3L1505.0 3265.0L1521.5 3265.0L1538.0 3265.0L1555.5 3265.0L1573.0 3265.0L1592.5 3266.0L1612.0 3267.0L1629.0 3267.0L1646.0 3267.0L1663.0 3267.0L1680.0 3267.0L1691.5 3267.0L1703.0 3267.0L1715.5 3267.0L1728.0 3267.0L1743.0 3267.0L1758.0 3267.0L1776.0 3267.0L1787.0 3267.0L1798.0 3267.0L1810.5 3267.0L1823.0 3267.0L1836.5 3267.5L1850.0 3268.0L1861.5 3268.0L1873.0 3268.0L1884.0 3268.0L1895.0 3268.0L1906.5 3265.6L1917.9 3263.1L1933.0 3266.0L1949.1 3263.1L1962.0 3266.0L1975.0 3262.0L1989.6 3270.9L2000.0 3265.0L2010.0 3268.0L2020.0 3264.0L2030.0 3266.0L2042.6 3220.3L2055.0 3265.0" fill="none" stroke="#4f4f4f" stroke-width="7" stroke-linejoin="round" stroke-linecap="round"/>
<rect x="423.8" y="2781.7" width="30.4" height="30.4" fill="#4f4f4f"/>
<rect x="428.2" y="2937.8" width="30.4" height="30.4" fill="#4f4f4f"/>
<rect x="442.4" y="2949.8" width="30.4" height="30.4" fill="#4f4f4f"/>
<rect x="456.8" y="2946.8" width="30.4" height="30.4" fill="#4f4f4f"/>
<rect x="471.7" y="2919.2" width="30.4" height="30.4" fill="#4f4f4f"/>
<rect x="491.0" y="2960.6" width="30.4" height="30.4" fill="#4f4f4f"/>
<rect x="511.5" y="2971.1" width="30.4" height="30.4" fill="#4f4f4f"/>
<rect x="536.8" y="2944.3" width="30.4" height="30.4" fill="#4f4f4f"/>
<rect x="567.7" y="2988.2" width="30.4" height="30.4" fill="#4f4f4f"/>
<rect x="595.2" y="2994.8" width="30.4" height="30.4" fill="#4f4f4f"/>
<rect x="609.5" y="2994.8" width="30.4" height="30.4" fill="#4f4f4f"/>
<rect x="625.2" y="2988.2" width="30.4" height="30.4" fill="#4f4f4f"/>
<rect x="655.4" y="2975.8" width="30.4" height="30.4" fill="#4f4f4f"/>
<rect x="683.1" y="2872.8" width="30.4" height="30.4" fill="#4f4f4f"/>
<rect x="713.9" y="2428.2" width="30.4" height="30.4" fill="#4f4f4f"/>
<rect x="743.2" y="2158.6" width="30.4" height="30.4" fill="#4f4f4f"/>
<rect x="773.1" y="2386.9" width="30.4" height="30.4" fill="#4f4f4f"/>
<rect x="803.4" y="2969.1" width="30.4" height="30.4" fill="#4f4f4f"/>
<rect x="833.4" y="3149.8" width="30.4" height="30.4" fill="#4f4f4f"/>
<rect x="864.0" y="3188.8" width="30.4" height="30.4" fill="#4f4f4f"/>
<rect x="894.1" y="3201.8" width="30.4" height="30.4" fill="#4f4f4f"/>
<rect x="924.9" y="3221.3" width="30.4" height="30.4" fill="#4f4f4f"/>
<rect x="955.4" y="3237.8" width="30.4" height="30.4" fill="#4f4f4f"/>
<rect x="984.2" y="3231.8" width="30.4" height="30.4" fill="#4f4f4f"/>
<rect x="1011.7" y="3254.8" width="30.4" height="30.4" fill="#4f4f4f"/>
<rect x="1039.0" y="3252.5" width="30.4" height="30.4" fill="#4f4f4f"/>
<rect x="1070.4" y="3249.8" width="30.4" height="30.4" fill="#4f4f4f"/>
<rect x="1101.8" y="3242.8" width="30.4" height="30.4" fill="#4f4f4f"/>
<rect x="1115.8" y="3244.8" width="30.4" height="30.4" fill="#4f4f4f"/>
<rect x="1134.8" y="3242.8" width="30.4" height="30.4" fill="#4f4f4f"/>
<rect x="1149.8" y="3245.6" width="30.4" height="30.4" fill="#4f4f4f"/>
<rect x="1164.8" y="3248.3" width="30.4" height="30.4" fill="#4f4f4f"/>
<rect x="1182.3" y="3245.6" width="30.4" height="30.4" fill="#4f4f4f"/>
<rect x="1199.8" y="3242.8" width="30.4" height="30.4" fill="#4f4f4f"/>
<rect x="1221.6" y="3250.3" width="30.4" height="30.4" fill="#4f4f4f"/>
<rect x="1238.2" y="3246.4" width="30.4" height="30.4" fill="#4f4f4f"/>
<rect x="1254.8" y="3242.5" width="30.4" height="30.4" fill="#4f4f4f"/>
<rect x="1268.8" y="3244.7" width="30.4" height="30.4" fill="#4f4f4f"/>
<rect x="1282.8" y="3246.8" width="30.4" height="30.4" fill="#4f4f4f"/>
<rect x="1299.3" y="3246.8" width="30.4" height="30.4" fill="#4f4f4f"/>
<rect x="1315.8" y="3246.8" width="30.4" height="30.4" fill="#4f4f4f"/>
<rect x="1327.0" y="3238.8" width="30.4" height="30.4" fill="#4f4f4f"/>
<rect x="1338.2" y="3230.8" width="30.4" height="30.4" fill="#4f4f4f"/>
<rect x="1349.5" y="3240.3" width="30.4" height="30.4" fill="#4f4f4f"/>
<rect x="1360.8" y="3249.8" width="30.4" height="30.4" fill="#4f4f4f"/>
<rect x="1372.4" y="3243.2" width="30.4" height="30.4" fill="#4f4f4f"/>
<rect x="1384.0" y="3236.6" width="30.4" height="30.4" fill="#4f4f4f"/>
<rect x="1399.4" y="3241.7" width="30.4" height="30.4" fill="#4f4f4f"/>
<rect x="1414.8" y="3246.8" width="30.4" height="30.4" fill="#4f4f4f"/>
<rect x="1436.4" y="3245.6" width="30.4" height="30.4" fill="#4f4f4f"/>
<rect x="1458.0" y="3244.4" width="30.4" height="30.4" fill="#4f4f4f"/>
<rect x="1473.9" y="3247.1" width="30.4" height="30.4" fill="#4f4f4f"/>
<rect x="1489.8" y="3249.8" width="30.4" height="30.4" fill="#4f4f4f"/>
<rect x="1506.3" y="3249.8" width="30.4" height="30.4" fill="#4f4f4f"/>
<rect x="1522.8" y="3249.8" width="30.4" height="30.4" fill="#4f4f4f"/>
<rect x="1540.3" y="3249.8" width="30.4" height="30.4" fill="#4f4f4f"/>
<rect x="1557.8" y="3249.8" width="30.4" height="30.4" fill="#4f4f4f"/>
<rect x="1577.3" y="3250.8" width="30.4" height="30.4" fill="#4f4f4f"/>
<rect x="1596.8" y="3251.8" width="30.4" height="30.4" fill="#4f4f4f"/>
<rect x="1613.8" y="3251.8" width="30.4" height="30.4" fill="#4f4f4f"/>
<rect x="1630.8" y="3251.8" width="30.4" height="30.4" fill="#4f4f4f"/>
<rect x="1647.8" y="3251.8" width="30.4" height="30.4" fill="#4f4f4f"/>
<rect x="1664.8" y="3251.8" width="30.4" height="30.4" fill="#4f4f4f"/>
<rect x="1676.3" y="3251.8" width="30.4" height="30.4" fill="#4f4f4f"/>
<rect x="1687.8" y="3251.8" width="30.4" height="30.4" fill="#4f4f4f"/>
<rect x="1700.3" y="3251.8" width="30.4" height="30.4" fill="#4f4f4f"/>
<rect x="1712.8" y="3251.8" width="30.4" height="30.4" fill="#4f4f4f"/>
<rect x="1727.8" y="3251.8" width="30.4" height="30.4" fill="#4f4f4f"/>
<rect x="1742.8" y="3251.8" width="30.4" height="30.4" fill="#4f4f4f"/>
<rect x="1760.8" y="3251.8" width="30.4" height="30.4" fill="#4f4f4f"/>
<rect x="1771.8" y="3251.8" width="30.4" height="30.4" fill="#4f4f4f"/>
<rect x="1782.8" y="3251.8" width="30.4" height="30.4" fill="#4f4f4f"/>
<rect x="1795.3" y="3251.8" width="30.4" height="30.4" fill="#4f4f4f"/>
<rect x="1807.8" y="3251.8" width="30.4" height="30.4" fill="#4f4f4f"/>
<rect x="1821.3" y="3252.3" width="30.4" height="30.4" fill="#4f4f4f"/>
<rect x="1834.8" y="3252.8" width="30.4" height="30.4" fill="#4f4f4f"/>
<rect x="1846.3" y="3252.8" width="30.4" height="30.4" fill="#4f4f4f"/>
<rect x="1857.8" y="3252.8" width="30.4" height="30.4" fill="#4f4f4f"/>
<rect x="1868.8" y="3252.8" width="30.4" height="30.4" fill="#4f4f4f"/>
<rect x="1879.8" y="3252.8" width="30.4" height="30.4" fill="#4f4f4f"/>
<rect x="1891.2" y="3250.4" width="30.4" height="30.4" fill="#4f4f4f"/>
<rect x="1902.7" y="3247.9" width="30.4" height="30.4" fill="#4f4f4f"/>
<rect x="1917.8" y="3250.8" width="30.4" height="30.4" fill="#4f4f4f"/>
<rect x="1933.9" y="3247.9" width="30.4" height="30.4" fill="#4f4f4f"/>
<rect x="1946.8" y="3250.8" width="30.4" height="30.4" fill="#4f4f4f"/>
<rect x="1959.8" y="3246.8" width="30.4" height="30.4" fill="#4f4f4f"/>
<rect x="1974.4" y="3255.7" width="30.4" height="30.4" fill="#4f4f4f"/>
<rect x="1984.8" y="3249.8" width="30.4" height="30.4" fill="#4f4f4f"/>
<rect x="1994.8" y="3252.8" width="30.4" height="30.4" fill="#4f4f4f"/>
<rect x="2004.8" y="3248.8" width="30.4" height="30.4" fill="#4f4f4f"/>
<rect x="2014.8" y="3250.8" width="30.4" height="30.4" fill="#4f4f4f"/>
<rect x="2027.4" y="3205.1" width="30.4" height="30.4" fill="#4f4f4f"/>
<rect x="2039.8" y="3249.8" width="30.4" height="30.4" fill="#4f4f4f"/>
<path d="M439.0 2796.9L443.4 2953.0L457.6 2965.0L472.0 2962.0L486.9 2934.4L506.2 2975.8L526.7 2986.3L552.0 2959.5L582.9 3003.4L610.4 3010.0L624.7 3010.0L640.4 3003.4L670.6 2991.0L698.3 2888.0L729.1 2443.4L758.4 2173.8L788.3 2402.1L818.6 2984.3L848.6 3165.0L879.2 3204.0L909.3 3217.0L940.1 3236.5L970.6 3253.0L999.4 3247.0L1026.9 3270.0L1054.2 3267.7L1085.6 3265.0L1117.0 3258.0L1131.0 3260.0L1150.0 3258.0L1165.0 3260.8L1180.0 3263.5L1197.5 3260.8L1215.0 3258.0L1236.8 3265.5L1253.4 3261.6L1270.0 3257.7L1284.0 3259.8L1298.0 3262.0L1314.5 3262.0L1331.0 3262.0L1342.2 3254.0L1353.4 3246.0L1364.7 3255.5L1376.0 3265.0L1387.6 3258.4L1399.2 3251.8L1414.6 3256.9L1430.0 3262.0L1451.6 3260.8L1473.2 3259.6L1489.1 3262.3L1505.0 3265.0L1521.5 3265.0L1538.0 3265.0L1555.5 3265.0L1573.0 3265.0L1592.5 3266.0L1612.0 3267.0L1629.0 3267.0L1646.0 3267.0L1663.0 3267.0L1680.0 3267.0L1691.5 3267.0L1703.0 3267.0L1715.5 3267.0L1728.0 3267.0L1743.0 3267.0L1758.0 3267.0L1776.0 3267.0L1787.0 3267.0L1798.0 3267.0L1810.5 3267.0L1823.0 3267.0L1836.5 3267.5L1850.0 3268.0L1861.5 3268.0L1873.0 3268.0L1884.0 3268.0L1895.0 3268.0L1906.5 3265.6L1917.9 3263.1L1933.0 3266.0L1949.1 3263.1L1962.0 3266.0L1975.0 3262.0L1989.6 3270.9L2000.0 3265.0L2010.0 3268.0L2020.0 3264.0L2030.0 3266.0L2042.6 3220.3" fill="none" stroke="#fa3c3c" stroke-width="7" stroke-linejoin="round" stroke-linecap="round"/>
<circle cx="439.0" cy="2796.9" r="17.2" fill="#fa3c3c"/>
<circle cx="443.4" cy="2953.0" r="17.2" fill="#fa3c3c"/>
<circle cx="457.6" cy="2965.0" r="17.2" fill="#fa3c3c"/>
<circle cx="472.0" cy="2962.0" r="17.2" fill="#fa3c3c"/>
<circle cx="486.9" cy="2934.4" r="17.2" fill="#fa3c3c"/>
<circle cx="506.2" cy="2975.8" r="17.2" fill="#fa3c3c"/>
<circle cx="526.7" cy="2986.3" r="17.2" fill="#fa3c3c"/>
<circle cx="552.0" cy="2959.5" r="17.2" fill="#fa3c3c"/>
<circle cx="582.9" cy="3003.4" r="17.2" fill="#fa3c3c"/>
<circle cx="610.4" cy="3010.0" r="17.2" fill="#fa3c3c"/>
<circle cx="624.7" cy="3010.0" r="17.2" fill="#fa3c3c"/>
<circle cx="640.4" cy="3003.4" r="17.2" fill="#fa3c3c"/>
<circle cx="670.6" cy="2991.0" r="17.2" fill="#fa3c3c"/>
<circle cx="698.3" cy="2888.0" r="17.2" fill="#fa3c3c"/>
<circle cx="729.1" cy="2443.4" r="17.2" fill="#fa3c3c"/>
<circle cx="758.4" cy="2173.8" r="17.2" fill="#fa3c3c"/>
<circle cx="788.3" cy="2402.1" r="17.2" fill="#fa3c3c"/>
<circle cx="818.6" cy="2984.3" r="17.2" fill="#fa3c3c"/>
<circle cx="848.6" cy="3165.0" r="17.2" fill="#fa3c3c"/>
<circle cx="879.2" cy="3204.0" r="17.2" fill="#fa3c3c"/>
<circle cx="909.3" cy="3217.0" r="17.2" fill="#fa3c3c"/>
<circle cx="940.1" cy="3236.5" r="17.2" fill="#fa3c3c"/>
<circle cx="970.6" cy="3253.0" r="17.2" fill="#fa3c3c"/>
<circle cx="999.4" cy="3247.0" r="17.2" fill="#fa3c3c"/>
<circle cx="1026.9" cy="3270.0" r="17.2" fill="#fa3c3c"/>
<circle cx="1054.2" cy="3267.7" r="17.2" fill="#fa3c3c"/>
<circle cx="1085.6" cy="3265.0" r="17.2" fill="#fa3c3c"/>
<circle cx="1117.0" cy="3258.0" r="17.2" fill="#fa3c3c"/>
<circle cx="1131.0" cy="3260.0" r="17.2" fill="#fa3c3c"/>
<circle cx="1150.0" cy="3258.0" r="17.2" fill="#fa3c3c"/>
<circle cx="1165.0" cy="3260.8" r="17.2" fill="#fa3c3c"/>
<circle cx="1180.0" cy="3263.5" r="17.2" fill="#fa3c3c"/>
<circle cx="1197.5" cy="3260.8" r="17.2" fill="#fa3c3c"/>
<circle cx="1215.0" cy="3258.0" r="17.2" fill="#fa3c3c"/>
<circle cx="1236.8" cy="3265.5" r="17.2" fill="#fa3c3c"/>
<circle cx="1253.4" cy="3261.6" r="17.2" fill="#fa3c3c"/>
<circle cx="1270.0" cy="3257.7" r="17.2" fill="#fa3c3c"/>
<circle cx="1284.0" cy="3259.8" r="17.2" fill="#fa3c3c"/>
<circle cx="1298.0" cy="3262.0" r="17.2" fill="#fa3c3c"/>
<circle cx="1314.5" cy="3262.0" r="17.2" fill="#fa3c3c"/>
<circle cx="1331.0" cy="3262.0" r="17.2" fill="#fa3c3c"/>
<circle cx="1342.2" cy="3254.0" r="17.2" fill="#fa3c3c"/>
<circle cx="1353.4" cy="3246.0" r="17.2" fill="#fa3c3c"/>
<circle cx="1364.7" cy="3255.5" r="17.2" fill="#fa3c3c"/>
<circle cx="1376.0" cy="3265.0" r="17.2" fill="#fa3c3c"/>
<circle cx="1387.6" cy="3258.4" r="17.2" fill="#fa3c3c"/>
<circle cx="1399.2" cy="3251.8" r="17.2" fill="#fa3c3c"/>
<circle cx="1414.6" cy="3256.9" r="17.2" fill="#fa3c3c"/>
<circle cx="1430.0" cy="3262.0" r="17.2" fill="#fa3c3c"/>
<circle cx="1451.6" cy="3260.8" r="17.2" fill="#fa3c3c"/>
<circle cx="1473.2" cy="3259.6" r="17.2" fill="#fa3c3c"/>
<circle cx="1489.1" cy="3262.3" r="17.2" fill="#fa3c3c"/>
<circle cx="1505.0" cy="3265.0" r="17.2" fill="#fa3c3c"/>
<circle cx="1521.5" cy="3265.0" r="17.2" fill="#fa3c3c"/>
<circle cx="1538.0" cy="3265.0" r="17.2" fill="#fa3c3c"/>
<circle cx="1555.5" cy="3265.0" r="17.2" fill="#fa3c3c"/>
<circle cx="1573.0" cy="3265.0" r="17.2" fill="#fa3c3c"/>
<circle cx="1592.5" cy="3266.0" r="17.2" fill="#fa3c3c"/>
<circle cx="1612.0" cy="3267.0" r="17.2" fill="#fa3c3c"/>
<circle cx="1629.0" cy="3267.0" r="17.2" fill="#fa3c3c"/>
<circle cx="1646.0" cy="3267.0" r="17.2" fill="#fa3c3c"/>
<circle cx="1663.0" cy="3267.0" r="17.2" fill="#fa3c3c"/>
<circle cx="1680.0" cy="3267.0" r="17.2" fill="#fa3c3c"/>
<circle cx="1691.5" cy="3267.0" r="17.2" fill="#fa3c3c"/>
<circle cx="1703.0" cy="3267.0" r="17.2" fill="#fa3c3c"/>
<circle cx="1715.5" cy="3267.0" r="17.2" fill="#fa3c3c"/>
<circle cx="1728.0" cy="3267.0" r="17.2" fill="#fa3c3c"/>
<circle cx="1743.0" cy="3267.0" r="17.2" fill="#fa3c3c"/>
<circle cx="1758.0" cy="3267.0" r="17.2" fill="#fa3c3c"/>
<circle cx="1776.0" cy="3267.0" r="17.2" fill="#fa3c3c"/>
<circle cx="1787.0" cy="3267.0" r="17.2" fill="#fa3c3c"/>
<circle cx="1798.0" cy="3267.0" r="17.2" fill="#fa3c3c"/>
<circle cx="1810.5" cy="3267.0" r="17.2" fill="#fa3c3c"/>
<circle cx="1823.0" cy="3267.0" r="17.2" fill="#fa3c3c"/>
<circle cx="1836.5" cy="3267.5" r="17.2" fill="#fa3c3c"/>
<circle cx="1850.0" cy="3268.0" r="17.2" fill="#fa3c3c"/>
<circle cx="1861.5" cy="3268.0" r="17.2" fill="#fa3c3c"/>
<circle cx="1873.0" cy="3268.0" r="17.2" fill="#fa3c3c"/>
<circle cx="1884.0" cy="3268.0" r="17.2" fill="#fa3c3c"/>
<circle cx="1895.0" cy="3268.0" r="17.2" fill="#fa3c3c"/>
<circle cx="1906.5" cy="3265.6" r="17.2" fill="#fa3c3c"/>
<circle cx="1917.9" cy="3263.1" r="17.2" fill="#fa3c3c"/>
<circle cx="1933.0" cy="3266.0" r="17.2" fill="#fa3c3c"/>
<circle cx="1949.1" cy="3263.1" r="17.2" fill="#fa3c3c"/>
<circle cx="1962.0" cy="3266.0" r="17.2" fill="#fa3c3c"/>
<circle cx="1975.0" cy="3262.0" r="17.2" fill="#fa3c3c"/>
<circle cx="1989.6" cy="3270.9" r="17.2" fill="#fa3c3c"/>
<circle cx="2000.0" cy="3265.0" r="17.2" fill="#fa3c3c"/>
<circle cx="2010.0" cy="3268.0" r="17.2" fill="#fa3c3c"/>
<circle cx="2020.0" cy="3264.0" r="17.2" fill="#fa3c3c"/>
<circle cx="2030.0" cy="3266.0" r="17.2" fill="#fa3c3c"/>
<circle cx="2042.6" cy="3220.3" r="17.2" fill="#fa3c3c"/>
<path d="M439.0 2979.2L443.4 3036.0L457.6 3070.5L472.0 3076.0L486.9 3081.5L506.2 3078.6L526.7 3069.7L552.0 3060.8L582.9 3033.3L610.4 3012.0L624.7 3015.0L640.4 2979.0L670.6 2924.0L698.3 2838.9L729.1 2547.0L758.4 2029.8L788.3 2138.5L818.6 2801.0L848.6 3086.5L879.2 3178.7L909.3 3200.8L940.1 3216.4L970.6 3219.0L999.4 3226.3L1026.9 3235.9L1054.2 3239.8L1085.6 3255.4L1117.0 3237.2L1131.0 3238.8L1150.0 3242.3L1164.0 3240.6L1178.0 3238.8L1191.6 3232.6L1206.6 3234.9L1220.0 3234.5L1237.7 3238.4L1248.8 3239.2L1260.0 3240.0L1279.6 3229.1L1298.0 3244.3L1315.0 3241.0L1331.0 3245.0L1340.7 3249.1L1352.4 3258.3L1364.6 3268.9L1376.8 3279.5L1388.0 3270.8L1399.2 3262.2L1414.7 3267.6L1425.8 3273.6L1437.0 3279.5L1447.0 3270.0L1460.0 3274.8L1473.0 3279.5L1488.0 3266.0L1505.3 3257.3L1520.0 3263.2L1538.5 3279.5L1558.9 3263.7L1573.5 3265.1L1584.7 3261.2L1595.9 3257.3L1612.5 3260.2L1630.0 3266.0L1646.6 3262.0L1663.0 3266.0L1680.9 3265.0L1692.0 3270.0L1703.0 3262.0L1715.0 3268.0L1728.0 3263.0L1742.0 3270.0L1758.4 3262.0L1776.7 3262.0L1787.0 3270.0L1798.2 3264.0L1810.0 3270.0L1823.2 3262.0L1836.0 3270.0L1848.4 3262.0L1853.7 3254.4L1873.5 3251.3L1895.3 3252.0L1908.0 3250.1L1920.7 3248.2L1939.7 3265.0L1949.9 3243.5L1958.0 3272.0L1971.7 3239.6L1990.0 3230.0L2009.1 3216.2L2021.5 3209.2L2031.0 3215.0L2042.6 3209.2L2048.0 3270.0" fill="none" stroke="#0068e0" stroke-width="7" stroke-linejoin="round" stroke-linecap="round"/>
<path d="M439.0 2955.6L459.2 2991.0L418.8 2991.0Z" fill="#0068e0"/>
<path d="M443.4 3012.4L463.6 3047.8L423.2 3047.8Z" fill="#0068e0"/>
<path d="M457.6 3046.9L477.8 3082.3L437.4 3082.3Z" fill="#0068e0"/>
<path d="M472.0 3052.4L492.2 3087.8L451.8 3087.8Z" fill="#0068e0"/>
<path d="M486.9 3057.9L507.1 3093.3L466.7 3093.3Z" fill="#0068e0"/>
<path d="M506.2 3055.0L526.4 3090.4L486.0 3090.4Z" fill="#0068e0"/>
<path d="M526.7 3046.1L546.9 3081.5L506.5 3081.5Z" fill="#0068e0"/>
<path d="M552.0 3037.2L572.2 3072.6L531.8 3072.6Z" fill="#0068e0"/>
<path d="M582.9 3009.7L603.1 3045.1L562.7 3045.1Z" fill="#0068e0"/>
<path d="M610.4 2988.4L630.6 3023.8L590.2 3023.8Z" fill="#0068e0"/>
<path d="M624.7 2991.4L644.9 3026.8L604.5 3026.8Z" fill="#0068e0"/>
<path d="M640.4 2955.4L660.6 2990.8L620.2 2990.8Z" fill="#0068e0"/>
<path d="M670.6 2900.4L690.8 2935.8L650.4 2935.8Z" fill="#0068e0"/>
<path d="M698.3 2815.3L718.5 2850.7L678.1 2850.7Z" fill="#0068e0"/>
<path d="M729.1 2523.4L749.3 2558.8L708.9 2558.8Z" fill="#0068e0"/>
<path d="M758.4 2006.2L778.6 2041.6L738.2 2041.6Z" fill="#0068e0"/>
<path d="M788.3 2114.9L808.5 2150.3L768.1 2150.3Z" fill="#0068e0"/>
<path d="M818.6 2777.4L838.8 2812.8L798.4 2812.8Z" fill="#0068e0"/>
<path d="M848.6 3062.9L868.8 3098.3L828.4 3098.3Z" fill="#0068e0"/>
<path d="M879.2 3155.1L899.4 3190.5L859.0 3190.5Z" fill="#0068e0"/>
<path d="M909.3 3177.2L929.5 3212.6L889.1 3212.6Z" fill="#0068e0"/>
<path d="M940.1 3192.8L960.3 3228.2L919.9 3228.2Z" fill="#0068e0"/>
<path d="M970.6 3195.4L990.8 3230.8L950.4 3230.8Z" fill="#0068e0"/>
<path d="M999.4 3202.7L1019.6 3238.1L979.2 3238.1Z" fill="#0068e0"/>
<path d="M1026.9 3212.3L1047.1 3247.7L1006.7 3247.7Z" fill="#0068e0"/>
<path d="M1054.2 3216.2L1074.4 3251.6L1034.0 3251.6Z" fill="#0068e0"/>
<path d="M1085.6 3231.8L1105.8 3267.2L1065.4 3267.2Z" fill="#0068e0"/>
<path d="M1117.0 3213.6L1137.2 3249.0L1096.8 3249.0Z" fill="#0068e0"/>
<path d="M1131.0 3215.2L1151.2 3250.6L1110.8 3250.6Z" fill="#0068e0"/>
<path d="M1150.0 3218.7L1170.2 3254.1L1129.8 3254.1Z" fill="#0068e0"/>
<path d="M1164.0 3217.0L1184.2 3252.4L1143.8 3252.4Z" fill="#0068e0"/>
<path d="M1178.0 3215.2L1198.2 3250.6L1157.8 3250.6Z" fill="#0068e0"/>
<path d="M1191.6 3209.0L1211.8 3244.4L1171.4 3244.4Z" fill="#0068e0"/>
<path d="M1206.6 3211.3L1226.8 3246.7L1186.4 3246.7Z" fill="#0068e0"/>
<path d="M1220.0 3210.9L1240.2 3246.3L1199.8 3246.3Z" fill="#0068e0"/>
<path d="M1237.7 3214.8L1257.9 3250.2L1217.5 3250.2Z" fill="#0068e0"/>
<path d="M1248.8 3215.6L1269.0 3251.0L1228.6 3251.0Z" fill="#0068e0"/>
<path d="M1260.0 3216.4L1280.2 3251.8L1239.8 3251.8Z" fill="#0068e0"/>
<path d="M1279.6 3205.5L1299.8 3240.9L1259.4 3240.9Z" fill="#0068e0"/>
<path d="M1298.0 3220.7L1318.2 3256.1L1277.8 3256.1Z" fill="#0068e0"/>
<path d="M1315.0 3217.4L1335.2 3252.8L1294.8 3252.8Z" fill="#0068e0"/>
<path d="M1331.0 3221.4L1351.2 3256.8L1310.8 3256.8Z" fill="#0068e0"/>
<path d="M1340.7 3225.5L1360.9 3260.9L1320.5 3260.9Z" fill="#0068e0"/>
<path d="M1352.4 3234.7L1372.6 3270.1L1332.2 3270.1Z" fill="#0068e0"/>
<path d="M1364.6 3245.3L1384.8 3280.7L1344.4 3280.7Z" fill="#0068e0"/>
<path d="M1376.8 3255.9L1397.0 3291.3L1356.6 3291.3Z" fill="#0068e0"/>
<path d="M1388.0 3247.2L1408.2 3282.7L1367.8 3282.7Z" fill="#0068e0"/>
<path d="M1399.2 3238.6L1419.4 3274.0L1379.0 3274.0Z" fill="#0068e0"/>
<path d="M1414.7 3244.0L1434.9 3279.4L1394.5 3279.4Z" fill="#0068e0"/>
<path d="M1425.8 3250.0L1446.0 3285.4L1405.6 3285.4Z" fill="#0068e0"/>
<path d="M1437.0 3255.9L1457.2 3291.3L1416.8 3291.3Z" fill="#0068e0"/>
<path d="M1447.0 3246.4L1467.2 3281.8L1426.8 3281.8Z" fill="#0068e0"/>
<path d="M1460.0 3251.2L1480.2 3286.6L1439.8 3286.6Z" fill="#0068e0"/>
<path d="M1473.0 3255.9L1493.2 3291.3L1452.8 3291.3Z" fill="#0068e0"/>
<path d="M1488.0 3242.4L1508.2 3277.8L1467.8 3277.8Z" fill="#0068e0"/>
<path d="M1505.3 3233.7L1525.5 3269.1L1485.1 3269.1Z" fill="#0068e0"/>
<path d="M1520.0 3239.6L1540.2 3275.0L1499.8 3275.0Z" fill="#0068e0"/>
<path d="M1538.5 3255.9L1558.7 3291.3L1518.3 3291.3Z" fill="#0068e0"/>
<path d="M1558.9 3240.1L1579.1 3275.5L1538.7 3275.5Z" fill="#0068e0"/>
<path d="M1573.5 3241.5L1593.7 3276.9L1553.3 3276.9Z" fill="#0068e0"/>
<path d="M1584.7 3237.6L1604.9 3273.0L1564.5 3273.0Z" fill="#0068e0"/>
<path d="M1595.9 3233.7L1616.1 3269.1L1575.7 3269.1Z" fill="#0068e0"/>
<path d="M1612.5 3236.6L1632.7 3272.0L1592.3 3272.0Z" fill="#0068e0"/>
<path d="M1630.0 3242.4L1650.2 3277.8L1609.8 3277.8Z" fill="#0068e0"/>
<path d="M1646.6 3238.4L1666.8 3273.8L1626.4 3273.8Z" fill="#0068e0"/>
<path d="M1663.0 3242.4L1683.2 3277.8L1642.8 3277.8Z" fill="#0068e0"/>
<path d="M1680.9 3241.4L1701.1 3276.8L1660.7 3276.8Z" fill="#0068e0"/>
<path d="M1692.0 3246.4L1712.2 3281.8L1671.8 3281.8Z" fill="#0068e0"/>
<path d="M1703.0 3238.4L1723.2 3273.8L1682.8 3273.8Z" fill="#0068e0"/>
<path d="M1715.0 3244.4L1735.2 3279.8L1694.8 3279.8Z" fill="#0068e0"/>
<path d="M1728.0 3239.4L1748.2 3274.8L1707.8 3274.8Z" fill="#0068e0"/>
<path d="M1742.0 3246.4L1762.2 3281.8L1721.8 3281.8Z" fill="#0068e0"/>
<path d="M1758.4 3238.4L1778.6 3273.8L1738.2 3273.8Z" fill="#0068e0"/>
<path d="M1776.7 3238.4L1796.9 3273.8L1756.5 3273.8Z" fill="#0068e0"/>
<path d="M1787.0 3246.4L1807.2 3281.8L1766.8 3281.8Z" fill="#0068e0"/>
<path d="M1798.2 3240.4L1818.4 3275.8L1778.0 3275.8Z" fill="#0068e0"/>
<path d="M1810.0 3246.4L1830.2 3281.8L1789.8 3281.8Z" fill="#0068e0"/>
<path d="M1823.2 3238.4L1843.4 3273.8L1803.0 3273.8Z" fill="#0068e0"/>
<path d="M1836.0 3246.4L1856.2 3281.8L1815.8 3281.8Z" fill="#0068e0"/>
<path d="M1848.4 3238.4L1868.6 3273.8L1828.2 3273.8Z" fill="#0068e0"/>
<path d="M1853.7 3230.8L1873.9 3266.2L1833.5 3266.2Z" fill="#0068e0"/>
<path d="M1873.5 3227.7L1893.7 3263.1L1853.3 3263.1Z" fill="#0068e0"/>
<path d="M1895.3 3228.4L1915.5 3263.8L1875.1 3263.8Z" fill="#0068e0"/>
<path d="M1908.0 3226.5L1928.2 3261.9L1887.8 3261.9Z" fill="#0068e0"/>
<path d="M1920.7 3224.6L1940.9 3260.0L1900.5 3260.0Z" fill="#0068e0"/>
<path d="M1939.7 3241.4L1959.9 3276.8L1919.5 3276.8Z" fill="#0068e0"/>
<path d="M1949.9 3219.9L1970.1 3255.3L1929.7 3255.3Z" fill="#0068e0"/>
<path d="M1958.0 3248.4L1978.2 3283.8L1937.8 3283.8Z" fill="#0068e0"/>
<path d="M1971.7 3216.0L1991.9 3251.4L1951.5 3251.4Z" fill="#0068e0"/>
<path d="M1990.0 3206.4L2010.2 3241.8L1969.8 3241.8Z" fill="#0068e0"/>
<path d="M2009.1 3192.6L2029.3 3228.0L1988.9 3228.0Z" fill="#0068e0"/>
<path d="M2021.5 3185.6L2041.7 3221.0L2001.3 3221.0Z" fill="#0068e0"/>
<path d="M2031.0 3191.4L2051.2 3226.8L2010.8 3226.8Z" fill="#0068e0"/>
<path d="M2042.6 3185.6L2062.8 3221.0L2022.4 3221.0Z" fill="#0068e0"/>
<path d="M2048.0 3246.4L2068.2 3281.8L2027.8 3281.8Z" fill="#0068e0"/>
<path d="M439.0 2762.9L443.4 2974.0L457.6 2931.8L472.0 2964.4L486.9 2948.8L506.2 2948.8L526.7 3022.3L552.0 3021.5L582.9 3049.1L610.4 3054.8L624.7 3105.1L640.4 3049.1L670.6 2943.1L698.3 2754.2L729.1 2559.0L758.4 2462.3L788.3 2734.0L818.6 3118.5L848.6 3211.0L879.2 3232.9L909.3 3253.6L940.1 3257.5L970.6 3243.2L999.4 3264.0L1026.9 3258.8L1054.2 3245.8L1085.6 3268.0L1117.0 3279.0L1131.0 3279.0L1150.0 3279.0L1164.0 3279.0L1178.0 3279.0L1192.0 3279.0L1206.0 3279.0L1221.5 3279.0L1237.0 3279.0L1253.5 3279.0L1270.0 3279.0L1284.0 3279.0L1298.0 3279.0L1311.5 3259.7L1325.0 3240.4L1340.0 3272.0L1351.0 3271.6L1363.5 3275.3L1376.0 3279.0L1387.5 3279.0L1399.0 3279.0L1412.9 3272.4L1426.8 3265.8L1442.2 3268.2L1457.6 3270.6L1473.0 3279.0L1488.0 3279.0L1505.0 3279.0L1520.0 3264.8L1538.0 3275.0L1558.9 3265.8L1572.2 3267.8L1585.6 3269.7L1598.8 3268.3L1612.0 3267.0L1629.0 3267.0L1646.0 3267.0L1663.0 3267.0L1680.0 3267.0L1691.5 3267.0L1703.0 3267.0L1715.5 3266.5L1728.0 3266.0L1743.0 3265.0L1758.0 3264.0L1776.0 3263.0L1787.0 3262.5L1798.0 3262.0L1810.5 3262.0L1823.0 3262.0L1836.5 3261.5L1850.0 3261.0L1861.5 3256.3L1873.0 3251.7L1886.5 3252.8L1900.0 3254.0L1919.8 3242.0L1935.0 3238.2L1950.2 3234.3L1970.0 3231.5L1985.0 3228.0L1997.7 3221.3L2008.3 3215.1L2022.3 3210.4L2031.2 3176.9L2048.0 3279.5" fill="none" stroke="#00ae68" stroke-width="7" stroke-linejoin="round" stroke-linecap="round"/>
<path d="M439.0 2786.5L459.2 2751.1L418.8 2751.1Z" fill="#00ae68"/>
<path d="M443.4 2997.6L463.6 2962.2L423.2 2962.2Z" fill="#00ae68"/>
<path d="M457.6 2955.4L477.8 2920.0L437.4 2920.0Z" fill="#00ae68"/>
<path d="M472.0 2988.0L492.2 2952.6L451.8 2952.6Z" fill="#00ae68"/>
<path d="M486.9 2972.4L507.1 2937.0L466.7 2937.0Z" fill="#00ae68"/>
<path d="M506.2 2972.4L526.4 2937.0L486.0 2937.0Z" fill="#00ae68"/>
<path d="M526.7 3045.9L546.9 3010.5L506.5 3010.5Z" fill="#00ae68"/>
<path d="M552.0 3045.1L572.2 3009.7L531.8 3009.7Z" fill="#00ae68"/>
<path d="M582.9 3072.7L603.1 3037.3L562.7 3037.3Z" fill="#00ae68"/>
<path d="M610.4 3078.4L630.6 3043.0L590.2 3043.0Z" fill="#00ae68"/>
<path d="M624.7 3128.7L644.9 3093.3L604.5 3093.3Z" fill="#00ae68"/>
<path d="M640.4 3072.7L660.6 3037.3L620.2 3037.3Z" fill="#00ae68"/>
<path d="M670.6 2966.7L690.8 2931.3L650.4 2931.3Z" fill="#00ae68"/>
<path d="M698.3 2777.8L718.5 2742.4L678.1 2742.4Z" fill="#00ae68"/>
<path d="M729.1 2582.6L749.3 2547.2L708.9 2547.2Z" fill="#00ae68"/>
<path d="M758.4 2485.9L778.6 2450.5L738.2 2450.5Z" fill="#00ae68"/>
<path d="M788.3 2757.6L808.5 2722.2L768.1 2722.2Z" fill="#00ae68"/>
<path d="M818.6 3142.1L838.8 3106.7L798.4 3106.7Z" fill="#00ae68"/>
<path d="M848.6 3234.6L868.8 3199.2L828.4 3199.2Z" fill="#00ae68"/>
<path d="M879.2 3256.5L899.4 3221.1L859.0 3221.1Z" fill="#00ae68"/>
<path d="M909.3 3277.2L929.5 3241.8L889.1 3241.8Z" fill="#00ae68"/>
<path d="M940.1 3281.1L960.3 3245.7L919.9 3245.7Z" fill="#00ae68"/>
<path d="M970.6 3266.8L990.8 3231.4L950.4 3231.4Z" fill="#00ae68"/>
<path d="M999.4 3287.6L1019.6 3252.2L979.2 3252.2Z" fill="#00ae68"/>
<path d="M1026.9 3282.4L1047.1 3247.0L1006.7 3247.0Z" fill="#00ae68"/>
<path d="M1054.2 3269.4L1074.4 3234.0L1034.0 3234.0Z" fill="#00ae68"/>
<path d="M1085.6 3291.6L1105.8 3256.2L1065.4 3256.2Z" fill="#00ae68"/>
<path d="M1117.0 3302.6L1137.2 3267.2L1096.8 3267.2Z" fill="#00ae68"/>
<path d="M1131.0 3302.6L1151.2 3267.2L1110.8 3267.2Z" fill="#00ae68"/>
<path d="M1150.0 3302.6L1170.2 3267.2L1129.8 3267.2Z" fill="#00ae68"/>
<path d="M1164.0 3302.6L1184.2 3267.2L1143.8 3267.2Z" fill="#00ae68"/>
<path d="M1178.0 3302.6L1198.2 3267.2L1157.8 3267.2Z" fill="#00ae68"/>
<path d="M1192.0 3302.6L1212.2 3267.2L1171.8 3267.2Z" fill="#00ae68"/>
<path d="M1206.0 3302.6L1226.2 3267.2L1185.8 3267.2Z" fill="#00ae68"/>
<path d="M1221.5 3302.6L1241.7 3267.2L1201.3 3267.2Z" fill="#00ae68"/>
<path d="M1237.0 3302.6L1257.2 3267.2L1216.8 3267.2Z" fill="#00ae68"/>
<path d="M1253.5 3302.6L1273.7 3267.2L1233.3 3267.2Z" fill="#00ae68"/>
<path d="M1270.0 3302.6L1290.2 3267.2L1249.8 3267.2Z" fill="#00ae68"/>
<path d="M1284.0 3302.6L1304.2 3267.2L1263.8 3267.2Z" fill="#00ae68"/>
<path d="M1298.0 3302.6L1318.2 3267.2L1277.8 3267.2Z" fill="#00ae68"/>
<path d="M1311.5 3283.3L1331.7 3247.9L1291.3 3247.9Z" fill="#00ae68"/>
<path d="M1325.0 3264.0L1345.2 3228.6L1304.8 3228.6Z" fill="#00ae68"/>
<path d="M1340.0 3295.6L1360.2 3260.2L1319.8 3260.2Z" fill="#00ae68"/>
<path d="M1351.0 3295.2L1371.2 3259.8L1330.8 3259.8Z" fill="#00ae68"/>
<path d="M1363.5 3298.9L1383.7 3263.5L1343.3 3263.5Z" fill="#00ae68"/>
<path d="M1376.0 3302.6L1396.2 3267.2L1355.8 3267.2Z" fill="#00ae68"/>
<path d="M1387.5 3302.6L1407.7 3267.2L1367.3 3267.2Z" fill="#00ae68"/>
<path d="M1399.0 3302.6L1419.2 3267.2L1378.8 3267.2Z" fill="#00ae68"/>
<path d="M1412.9 3296.0L1433.1 3260.6L1392.7 3260.6Z" fill="#00ae68"/>
<path d="M1426.8 3289.4L1447.0 3254.0L1406.6 3254.0Z" fill="#00ae68"/>
<path d="M1442.2 3291.8L1462.4 3256.4L1422.0 3256.4Z" fill="#00ae68"/>
<path d="M1457.6 3294.2L1477.8 3258.8L1437.4 3258.8Z" fill="#00ae68"/>
<path d="M1473.0 3302.6L1493.2 3267.2L1452.8 3267.2Z" fill="#00ae68"/>
<path d="M1488.0 3302.6L1508.2 3267.2L1467.8 3267.2Z" fill="#00ae68"/>
<path d="M1505.0 3302.6L1525.2 3267.2L1484.8 3267.2Z" fill="#00ae68"/>
<path d="M1520.0 3288.4L1540.2 3253.0L1499.8 3253.0Z" fill="#00ae68"/>
<path d="M1538.0 3298.6L1558.2 3263.2L1517.8 3263.2Z" fill="#00ae68"/>
<path d="M1558.9 3289.4L1579.1 3254.0L1538.7 3254.0Z" fill="#00ae68"/>
<path d="M1572.2 3291.3L1592.5 3255.9L1552.0 3255.9Z" fill="#00ae68"/>
<path d="M1585.6 3293.3L1605.8 3257.9L1565.4 3257.9Z" fill="#00ae68"/>
<path d="M1598.8 3291.9L1619.0 3256.5L1578.6 3256.5Z" fill="#00ae68"/>
<path d="M1612.0 3290.6L1632.2 3255.2L1591.8 3255.2Z" fill="#00ae68"/>
<path d="M1629.0 3290.6L1649.2 3255.2L1608.8 3255.2Z" fill="#00ae68"/>
<path d="M1646.0 3290.6L1666.2 3255.2L1625.8 3255.2Z" fill="#00ae68"/>
<path d="M1663.0 3290.6L1683.2 3255.2L1642.8 3255.2Z" fill="#00ae68"/>
<path d="M1680.0 3290.6L1700.2 3255.2L1659.8 3255.2Z" fill="#00ae68"/>
<path d="M1691.5 3290.6L1711.7 3255.2L1671.3 3255.2Z" fill="#00ae68"/>
<path d="M1703.0 3290.6L1723.2 3255.2L1682.8 3255.2Z" fill="#00ae68"/>
<path d="M1715.5 3290.1L1735.7 3254.7L1695.3 3254.7Z" fill="#00ae68"/>
<path d="M1728.0 3289.6L1748.2 3254.2L1707.8 3254.2Z" fill="#00ae68"/>
<path d="M1743.0 3288.6L1763.2 3253.2L1722.8 3253.2Z" fill="#00ae68"/>
<path d="M1758.0 3287.6L1778.2 3252.2L1737.8 3252.2Z" fill="#00ae68"/>
<path d="M1776.0 3286.6L1796.2 3251.2L1755.8 3251.2Z" fill="#00ae68"/>
<path d="M1787.0 3286.1L1807.2 3250.7L1766.8 3250.7Z" fill="#00ae68"/>
<path d="M1798.0 3285.6L1818.2 3250.2L1777.8 3250.2Z" fill="#00ae68"/>
<path d="M1810.5 3285.6L1830.7 3250.2L1790.3 3250.2Z" fill="#00ae68"/>
<path d="M1823.0 3285.6L1843.2 3250.2L1802.8 3250.2Z" fill="#00ae68"/>
<path d="M1836.5 3285.1L1856.7 3249.7L1816.3 3249.7Z" fill="#00ae68"/>
<path d="M1850.0 3284.6L1870.2 3249.2L1829.8 3249.2Z" fill="#00ae68"/>
<path d="M1861.5 3279.9L1881.7 3244.5L1841.3 3244.5Z" fill="#00ae68"/>
<path d="M1873.0 3275.3L1893.2 3239.9L1852.8 3239.9Z" fill="#00ae68"/>
<path d="M1886.5 3276.4L1906.7 3241.0L1866.3 3241.0Z" fill="#00ae68"/>
<path d="M1900.0 3277.6L1920.2 3242.2L1879.8 3242.2Z" fill="#00ae68"/>
<path d="M1919.8 3265.6L1940.0 3230.2L1899.6 3230.2Z" fill="#00ae68"/>
<path d="M1935.0 3261.8L1955.2 3226.3L1914.8 3226.3Z" fill="#00ae68"/>
<path d="M1950.2 3257.9L1970.4 3222.5L1930.0 3222.5Z" fill="#00ae68"/>
<path d="M1970.0 3255.1L1990.2 3219.7L1949.8 3219.7Z" fill="#00ae68"/>
<path d="M1985.0 3251.6L2005.2 3216.2L1964.8 3216.2Z" fill="#00ae68"/>
<path d="M1997.7 3244.9L2017.9 3209.5L1977.5 3209.5Z" fill="#00ae68"/>
<path d="M2008.3 3238.7L2028.5 3203.3L1988.1 3203.3Z" fill="#00ae68"/>
<path d="M2022.3 3234.0L2042.5 3198.6L2002.1 3198.6Z" fill="#00ae68"/>
<path d="M2031.2 3200.5L2051.4 3165.1L2011.0 3165.1Z" fill="#00ae68"/>
<path d="M2048.0 3303.1L2068.2 3267.7L2027.8 3267.7Z" fill="#00ae68"/>
</g>
<rect x="278.5" y="1841.8" width="1908.5" height="1437.7" fill="none" stroke="#000" stroke-width="5"/>
<line x1="251.5" y1="3279.5" x2="278.5" y2="3279.5" stroke="#000" stroke-width="5"/>
<line x1="265.5" y1="3135.7" x2="278.5" y2="3135.7" stroke="#000" stroke-width="5"/>
<line x1="251.5" y1="2992.0" x2="278.5" y2="2992.0" stroke="#000" stroke-width="5"/>
<line x1="265.5" y1="2848.2" x2="278.5" y2="2848.2" stroke="#000" stroke-width="5"/>
<line x1="251.5" y1="2704.4" x2="278.5" y2="2704.4" stroke="#000" stroke-width="5"/>
<line x1="265.5" y1="2560.7" x2="278.5" y2="2560.7" stroke="#000" stroke-width="5"/>
<line x1="251.5" y1="2416.9" x2="278.5" y2="2416.9" stroke="#000" stroke-width="5"/>
<line x1="265.5" y1="2273.1" x2="278.5" y2="2273.1" stroke="#000" stroke-width="5"/>
<line x1="251.5" y1="2129.3" x2="278.5" y2="2129.3" stroke="#000" stroke-width="5"/>
<line x1="265.5" y1="1985.6" x2="278.5" y2="1985.6" stroke="#000" stroke-width="5"/>
<line x1="251.5" y1="1841.8" x2="278.5" y2="1841.8" stroke="#000" stroke-width="5"/>
<text x="231.0" y="3296.0" text-anchor="end" font-size="59" letter-spacing="0">0.00</text>
<text x="231.0" y="3008.5" text-anchor="end" font-size="59" letter-spacing="0">0.05</text>
<text x="231.0" y="2720.9" text-anchor="end" font-size="59" letter-spacing="0">0.10</text>
<text x="231.0" y="2433.4" text-anchor="end" font-size="59" letter-spacing="0">0.15</text>
<text x="231.0" y="2145.8" text-anchor="end" font-size="59" letter-spacing="0">0.20</text>
<text x="231.0" y="1858.3" text-anchor="end" font-size="59" letter-spacing="0">0.25</text>
<line x1="278.5" y1="3279.5" x2="278.5" y2="3306.5" stroke="#000" stroke-width="5"/>
<line x1="374.3" y1="3279.5" x2="374.3" y2="3291.5" stroke="#000" stroke-width="5"/>
<line x1="430.3" y1="3279.5" x2="430.3" y2="3291.5" stroke="#000" stroke-width="5"/>
<line x1="470.0" y1="3279.5" x2="470.0" y2="3291.5" stroke="#000" stroke-width="5"/>
<line x1="500.8" y1="3279.5" x2="500.8" y2="3291.5" stroke="#000" stroke-width="5"/>
<line x1="526.0" y1="3279.5" x2="526.0" y2="3291.5" stroke="#000" stroke-width="5"/>
<line x1="547.3" y1="3279.5" x2="547.3" y2="3291.5" stroke="#000" stroke-width="5"/>
<line x1="565.8" y1="3279.5" x2="565.8" y2="3291.5" stroke="#000" stroke-width="5"/>
<line x1="582.0" y1="3279.5" x2="582.0" y2="3291.5" stroke="#000" stroke-width="5"/>
<line x1="596.6" y1="3279.5" x2="596.6" y2="3306.5" stroke="#000" stroke-width="5"/>
<line x1="692.3" y1="3279.5" x2="692.3" y2="3291.5" stroke="#000" stroke-width="5"/>
<line x1="748.3" y1="3279.5" x2="748.3" y2="3291.5" stroke="#000" stroke-width="5"/>
<line x1="788.1" y1="3279.5" x2="788.1" y2="3291.5" stroke="#000" stroke-width="5"/>
<line x1="818.9" y1="3279.5" x2="818.9" y2="3291.5" stroke="#000" stroke-width="5"/>
<line x1="844.1" y1="3279.5" x2="844.1" y2="3291.5" stroke="#000" stroke-width="5"/>
<line x1="865.4" y1="3279.5" x2="865.4" y2="3291.5" stroke="#000" stroke-width="5"/>
<line x1="883.8" y1="3279.5" x2="883.8" y2="3291.5" stroke="#000" stroke-width="5"/>
<line x1="900.1" y1="3279.5" x2="900.1" y2="3291.5" stroke="#000" stroke-width="5"/>
<line x1="914.7" y1="3279.5" x2="914.7" y2="3306.5" stroke="#000" stroke-width="5"/>
<line x1="1010.4" y1="3279.5" x2="1010.4" y2="3291.5" stroke="#000" stroke-width="5"/>
<line x1="1066.4" y1="3279.5" x2="1066.4" y2="3291.5" stroke="#000" stroke-width="5"/>
<line x1="1106.2" y1="3279.5" x2="1106.2" y2="3291.5" stroke="#000" stroke-width="5"/>
<line x1="1137.0" y1="3279.5" x2="1137.0" y2="3291.5" stroke="#000" stroke-width="5"/>
<line x1="1162.2" y1="3279.5" x2="1162.2" y2="3291.5" stroke="#000" stroke-width="5"/>
<line x1="1183.5" y1="3279.5" x2="1183.5" y2="3291.5" stroke="#000" stroke-width="5"/>
<line x1="1201.9" y1="3279.5" x2="1201.9" y2="3291.5" stroke="#000" stroke-width="5"/>
<line x1="1218.2" y1="3279.5" x2="1218.2" y2="3291.5" stroke="#000" stroke-width="5"/>
<line x1="1232.8" y1="3279.5" x2="1232.8" y2="3306.5" stroke="#000" stroke-width="5"/>
<line x1="1328.5" y1="3279.5" x2="1328.5" y2="3291.5" stroke="#000" stroke-width="5"/>
<line x1="1384.5" y1="3279.5" x2="1384.5" y2="3291.5" stroke="#000" stroke-width="5"/>
<line x1="1424.3" y1="3279.5" x2="1424.3" y2="3291.5" stroke="#000" stroke-width="5"/>
<line x1="1455.1" y1="3279.5" x2="1455.1" y2="3291.5" stroke="#000" stroke-width="5"/>
<line x1="1480.3" y1="3279.5" x2="1480.3" y2="3291.5" stroke="#000" stroke-width="5"/>
<line x1="1501.6" y1="3279.5" x2="1501.6" y2="3291.5" stroke="#000" stroke-width="5"/>
<line x1="1520.0" y1="3279.5" x2="1520.0" y2="3291.5" stroke="#000" stroke-width="5"/>
<line x1="1536.3" y1="3279.5" x2="1536.3" y2="3291.5" stroke="#000" stroke-width="5"/>
<line x1="1550.8" y1="3279.5" x2="1550.8" y2="3306.5" stroke="#000" stroke-width="5"/>
<line x1="1646.6" y1="3279.5" x2="1646.6" y2="3291.5" stroke="#000" stroke-width="5"/>
<line x1="1702.6" y1="3279.5" x2="1702.6" y2="3291.5" stroke="#000" stroke-width="5"/>
<line x1="1742.3" y1="3279.5" x2="1742.3" y2="3291.5" stroke="#000" stroke-width="5"/>
<line x1="1773.2" y1="3279.5" x2="1773.2" y2="3291.5" stroke="#000" stroke-width="5"/>
<line x1="1798.4" y1="3279.5" x2="1798.4" y2="3291.5" stroke="#000" stroke-width="5"/>
<line x1="1819.6" y1="3279.5" x2="1819.6" y2="3291.5" stroke="#000" stroke-width="5"/>
<line x1="1838.1" y1="3279.5" x2="1838.1" y2="3291.5" stroke="#000" stroke-width="5"/>
<line x1="1854.4" y1="3279.5" x2="1854.4" y2="3291.5" stroke="#000" stroke-width="5"/>
<line x1="1868.9" y1="3279.5" x2="1868.9" y2="3306.5" stroke="#000" stroke-width="5"/>
<line x1="1964.7" y1="3279.5" x2="1964.7" y2="3291.5" stroke="#000" stroke-width="5"/>
<line x1="2020.7" y1="3279.5" x2="2020.7" y2="3291.5" stroke="#000" stroke-width="5"/>
<line x1="2060.4" y1="3279.5" x2="2060.4" y2="3291.5" stroke="#000" stroke-width="5"/>
<line x1="2091.2" y1="3279.5" x2="2091.2" y2="3291.5" stroke="#000" stroke-width="5"/>
<line x1="2116.4" y1="3279.5" x2="2116.4" y2="3291.5" stroke="#000" stroke-width="5"/>
<line x1="2137.7" y1="3279.5" x2="2137.7" y2="3291.5" stroke="#000" stroke-width="5"/>
<line x1="2156.2" y1="3279.5" x2="2156.2" y2="3291.5" stroke="#000" stroke-width="5"/>
<line x1="2172.4" y1="3279.5" x2="2172.4" y2="3291.5" stroke="#000" stroke-width="5"/>
<line x1="2187.0" y1="3279.5" x2="2187.0" y2="3306.5" stroke="#000" stroke-width="5"/>
<text x="278.5" y="3372" text-anchor="middle" font-size="59" letter-spacing="0">0.001</text>
<text x="596.6" y="3372" text-anchor="middle" font-size="59" letter-spacing="0">0.01</text>
<text x="914.7" y="3372" text-anchor="middle" font-size="59" letter-spacing="0">0.1</text>
<text x="1232.8" y="3372" text-anchor="middle" font-size="59" letter-spacing="0">1</text>
<text x="1550.8" y="3372" text-anchor="middle" font-size="59" letter-spacing="0">10</text>
<text x="1868.9" y="3372" text-anchor="middle" font-size="59" letter-spacing="0">100</text>
<text x="2187.0" y="3372" text-anchor="middle" font-size="59" letter-spacing="0">1000</text>
<line x1="590.9" y1="1887.8" x2="424.6" y2="1887.8" stroke="#000" stroke-width="5.5"/><path d="M382.6 1887.8L424.6 1876.8L424.6 1898.8Z" fill="#000" stroke="#000" stroke-width="2" stroke-linejoin="round"/>
<line x1="823.7" y1="1883.8" x2="1024.7" y2="1883.8" stroke="#000" stroke-width="5.5"/><path d="M1066.7 1883.8L1024.7 1872.8L1024.7 1894.8Z" fill="#000" stroke="#000" stroke-width="2" stroke-linejoin="round"/>
<text x="324" y="1958.7" font-size="60" font-weight="bold">Gel pores</text>
<text x="828" y="1961" font-size="60" font-weight="bold">Large capillary pores</text>
<text transform="translate(680.7 2521.5) rotate(-90)" font-size="60.5" font-weight="bold">Medium capillary pores</text>
<text x="2052" y="1952" font-size="98">(b)</text>
<text transform="translate(79 3049) rotate(-90)" font-size="74.5">Log Differential Intrusion (ml/g)</text>
<text x="883" y="3476.5" font-size="73">Pore size diameter (μm)</text>
<line x1="1492" y1="2122.9" x2="1639.5" y2="2122.9" stroke="#4f4f4f" stroke-width="6.6" stroke-linecap="round"/>
<rect x="1550.2" y="2107.4" width="31" height="31" fill="#4f4f4f"/>
<text x="1655" y="2144.9" font-size="66">PC</text>
<line x1="1492" y1="2205.7" x2="1639.5" y2="2205.7" stroke="#fa3c3c" stroke-width="6.6" stroke-linecap="round"/>
<circle cx="1565.7" cy="2205.7" r="17" fill="#fa3c3c"/>
<text x="1655" y="2227.7" font-size="66">PC-2.0 wt%</text>
<line x1="1492" y1="2289.4" x2="1639.5" y2="2289.4" stroke="#0068e0" stroke-width="6.6" stroke-linecap="round"/>
<path d="M1565.7 2267.4L1586.2 2303.4L1545.2 2303.4Z" fill="#0068e0"/>
<text x="1655" y="2311.4" font-size="66">PC-CSA</text>
<line x1="1492" y1="2372.3" x2="1639.5" y2="2372.3" stroke="#00ae68" stroke-width="6.6" stroke-linecap="round"/>
<path d="M1565.7 2394.3L1586.2 2358.3L1545.2 2358.3Z" fill="#00ae68"/>
<text x="1655" y="2394.3" font-size="66">PC-CSA-2.0 wt%</text>
</svg>
</body></html>
